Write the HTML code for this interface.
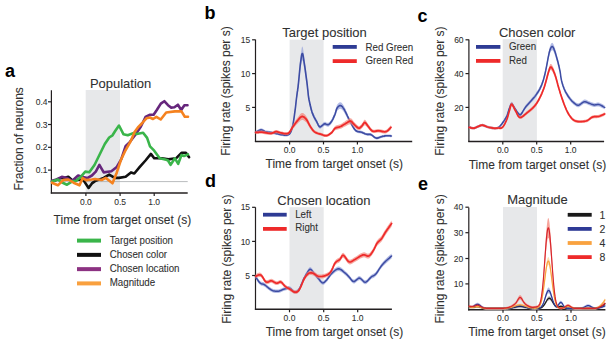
<!DOCTYPE html>
<html><head><meta charset="utf-8"><style>
html,body{margin:0;padding:0;background:#fff;width:611px;height:344px;overflow:hidden}
svg{display:block}
</style></head><body>
<svg width="611" height="344" viewBox="0 0 611 344" font-family='"Liberation Sans", sans-serif'>
<rect width="611" height="344" fill="#fff"/>
<rect x="85.7" y="90" width="34.3" height="102.8" fill="#e7e8ea"/>
<line x1="51.4" y1="181.6" x2="187.7" y2="181.6" stroke="#a7a9ac" stroke-width="0.8"/>
<line x1="51.4" y1="90.3" x2="51.4" y2="193.4" stroke="#231f20" stroke-width="1.2"/>
<line x1="48.0" y1="101.8" x2="51.4" y2="101.8" stroke="#231f20" stroke-width="1.2"/>
<text x="47.5" y="105.0" font-size="8.5" text-anchor="end" font-weight="normal" fill="#303030" stroke="#303030" stroke-width="0.08" transform="translate(47.5 105.0) scale(1 1.1) translate(-47.5 -105.0)">0.4</text>
<line x1="48.0" y1="124.5" x2="51.4" y2="124.5" stroke="#231f20" stroke-width="1.2"/>
<text x="47.5" y="127.7" font-size="8.5" text-anchor="end" font-weight="normal" fill="#303030" stroke="#303030" stroke-width="0.08" transform="translate(47.5 127.7) scale(1 1.1) translate(-47.5 -127.7)">0.3</text>
<line x1="48.0" y1="147.3" x2="51.4" y2="147.3" stroke="#231f20" stroke-width="1.2"/>
<text x="47.5" y="150.5" font-size="8.5" text-anchor="end" font-weight="normal" fill="#303030" stroke="#303030" stroke-width="0.08" transform="translate(47.5 150.5) scale(1 1.1) translate(-47.5 -150.5)">0.2</text>
<line x1="48.0" y1="170.1" x2="51.4" y2="170.1" stroke="#231f20" stroke-width="1.2"/>
<text x="47.5" y="173.29999999999998" font-size="8.5" text-anchor="end" font-weight="normal" fill="#303030" stroke="#303030" stroke-width="0.08" transform="translate(47.5 173.29999999999998) scale(1 1.1) translate(-47.5 -173.29999999999998)">0.1</text>
<line x1="50.8" y1="193.0" x2="187.7" y2="193.0" stroke="#231f20" stroke-width="1.5"/>
<line x1="85.9" y1="193.0" x2="85.9" y2="196.0" stroke="#231f20" stroke-width="1.2"/>
<text x="85.9" y="204.6" font-size="8.5" text-anchor="middle" font-weight="normal" fill="#303030" stroke="#303030" stroke-width="0.08" transform="translate(85.9 204.6) scale(1 1.1) translate(-85.9 -204.6)">0.0</text>
<line x1="120.1" y1="193.0" x2="120.1" y2="196.0" stroke="#231f20" stroke-width="1.2"/>
<text x="120.1" y="204.6" font-size="8.5" text-anchor="middle" font-weight="normal" fill="#303030" stroke="#303030" stroke-width="0.08" transform="translate(120.1 204.6) scale(1 1.1) translate(-120.1 -204.6)">0.5</text>
<line x1="154.2" y1="193.0" x2="154.2" y2="196.0" stroke="#231f20" stroke-width="1.2"/>
<text x="154.2" y="204.6" font-size="8.5" text-anchor="middle" font-weight="normal" fill="#303030" stroke="#303030" stroke-width="0.08" transform="translate(154.2 204.6) scale(1 1.1) translate(-154.2 -204.6)">1.0</text>
<text x="23.5" y="138.9" font-size="12" text-anchor="middle" font-weight="normal" fill="#303030" stroke="#303030" stroke-width="0.08" transform="rotate(-90 23.5 138.9) translate(23.5 138.9) scale(1 1.0) translate(-23.5 -138.9)">Fraction of neurons</text>
<text x="122.4" y="223.7" font-size="12" text-anchor="middle" font-weight="normal" fill="#303030" stroke="#303030" stroke-width="0.08" transform="translate(122.4 223.7) scale(1 1.0) translate(-122.4 -223.7)">Time from target onset (s)</text>
<text x="4.9" y="76.6" font-size="18" text-anchor="start" font-weight="bold" fill="#000" transform="translate(4.9 76.6) scale(1 1.05) translate(-4.9 -76.6)">a</text>
<text x="120.6" y="87.7" font-size="13" text-anchor="middle" font-weight="normal" fill="#303030" stroke="#303030" stroke-width="0.08" transform="translate(120.6 87.7) scale(1 1.05) translate(-120.6 -87.7)">Population</text>
<polyline points="52.0,181.4 56.0,180.0 60.5,178.1 64.0,178.0 68.3,176.8 73.6,181.4 78.1,179.5 83.4,180.1 88.6,188.0 91.9,183.4 95.0,181.1 103.7,177.9 109.2,174.6 114.7,177.9 119.0,177.9 125.6,176.8 131.0,172.4 134.3,173.5 139.8,166.9 145.5,160.5 150.9,153.9 154.2,158.3 161.8,158.3 168.4,159.4 176.0,158.3 181.5,152.8 185.9,152.8 189.1,157.2" fill="none" stroke="#111111" stroke-width="2.6" stroke-linejoin="round" stroke-linecap="round" stroke-opacity="1"/>
<polyline points="52.0,180.8 56.5,179.5 61.8,176.8 67.0,178.1 72.3,180.8 78.1,175.5 82.0,176.8 87.3,178.1 91.9,175.5 95.8,171.6 99.4,164.8 103.7,172.4 111.4,171.3 116.8,166.9 121.2,159.3 125.6,146.2 130.0,141.8 136.5,133.1 140.9,126.5 145.5,117.0 149.6,114.8 153.6,114.8 156.8,110.0 160.8,103.6 164.3,101.2 168.0,105.2 171.2,107.6 174.4,107.3 177.9,104.7 181.2,110.0 184.4,105.2 187.5,105.2" fill="none" stroke="#66267c" stroke-width="2.6" stroke-linejoin="round" stroke-linecap="round" stroke-opacity="1"/>
<polyline points="52.0,181.4 57.9,179.5 61.1,182.0 67.0,184.7 72.3,181.4 76.2,180.8 81.4,176.2 85.3,171.6 89.3,172.3 94.5,165.0 100.5,152.8 104.8,144.0 109.2,137.5 112.5,135.3 115.5,130.5 119.0,125.5 123.4,134.2 127.8,135.3 133.2,133.1 136.6,134.0 143.1,132.7 147.1,137.9 150.0,146.4 154.2,150.7 159.7,158.3 165.1,159.4 168.0,160.5 170.6,164.9 174.9,158.3 178.2,163.8 181.5,155.0 184.0,156.0 188.0,154.4" fill="none" stroke="#3ab54a" stroke-width="2.6" stroke-linejoin="round" stroke-linecap="round" stroke-opacity="1"/>
<polyline points="52.0,182.7 57.9,185.3 63.1,180.1 68.3,179.5 73.6,182.7 79.5,185.3 82.7,178.1 86.0,180.1 91.9,179.5 95.0,179.0 101.6,180.0 105.9,177.9 112.5,183.3 116.8,172.4 120.9,160.0 125.5,150.3 130.7,141.2 134.6,132.0 137.9,127.4 141.8,123.5 146.4,118.3 150.0,117.5 153.0,119.0 156.4,116.8 160.7,119.5 166.2,112.5 174.9,111.4 181.5,111.4 184.8,116.8 188.0,116.8" fill="none" stroke="#f5821f" stroke-width="2.6" stroke-linejoin="round" stroke-linecap="round" stroke-opacity="1"/>
<line x1="77" y1="240.6" x2="101" y2="240.6" stroke="#3ab54a" stroke-width="4.0"/>
<text x="109.7" y="244.5" font-size="9.75" text-anchor="start" font-weight="normal" fill="#303030" stroke="#303030" stroke-width="0.08" transform="translate(109.7 244.5) scale(1 1.05) translate(-109.7 -244.5)">Target position</text>
<line x1="77" y1="254.87" x2="101" y2="254.87" stroke="#111111" stroke-width="4.0"/>
<text x="109.7" y="257.8" font-size="9.75" text-anchor="start" font-weight="normal" fill="#303030" stroke="#303030" stroke-width="0.08" transform="translate(109.7 257.8) scale(1 1.05) translate(-109.7 -257.8)">Chosen color</text>
<line x1="77" y1="269.14" x2="101" y2="269.14" stroke="#8c3282" stroke-width="4.0"/>
<text x="109.7" y="272.4" font-size="9.75" text-anchor="start" font-weight="normal" fill="#303030" stroke="#303030" stroke-width="0.08" transform="translate(109.7 272.4) scale(1 1.05) translate(-109.7 -272.4)">Chosen location</text>
<line x1="77" y1="283.40999999999997" x2="101" y2="283.40999999999997" stroke="#f9a03e" stroke-width="4.0"/>
<text x="109.7" y="285.8" font-size="9.75" text-anchor="start" font-weight="normal" fill="#303030" stroke="#303030" stroke-width="0.08" transform="translate(109.7 285.8) scale(1 1.05) translate(-109.7 -285.8)">Magnitude</text>
<rect x="289.6" y="39.6" width="34" height="101.8" fill="#e7e8ea"/>
<line x1="255.5" y1="39.6" x2="255.5" y2="142.0" stroke="#231f20" stroke-width="1.2"/>
<line x1="252.1" y1="39.8" x2="255.5" y2="39.8" stroke="#231f20" stroke-width="1.2"/>
<text x="250.3" y="43.0" font-size="8.5" text-anchor="end" font-weight="normal" fill="#303030" stroke="#303030" stroke-width="0.08" transform="translate(250.3 43.0) scale(1 1.1) translate(-250.3 -43.0)">15</text>
<line x1="252.1" y1="73.6" x2="255.5" y2="73.6" stroke="#231f20" stroke-width="1.2"/>
<text x="250.3" y="76.8" font-size="8.5" text-anchor="end" font-weight="normal" fill="#303030" stroke="#303030" stroke-width="0.08" transform="translate(250.3 76.8) scale(1 1.1) translate(-250.3 -76.8)">10</text>
<line x1="252.1" y1="107.4" x2="255.5" y2="107.4" stroke="#231f20" stroke-width="1.2"/>
<text x="250.3" y="110.60000000000001" font-size="8.5" text-anchor="end" font-weight="normal" fill="#303030" stroke="#303030" stroke-width="0.08" transform="translate(250.3 110.60000000000001) scale(1 1.1) translate(-250.3 -110.60000000000001)">5</text>
<line x1="254.9" y1="141.4" x2="412.2" y2="141.4" stroke="#231f20" stroke-width="1.5"/>
<line x1="289.6" y1="141.4" x2="289.6" y2="144.4" stroke="#231f20" stroke-width="1.2"/>
<text x="289.6" y="153.4" font-size="8.5" text-anchor="middle" font-weight="normal" fill="#303030" stroke="#303030" stroke-width="0.08" transform="translate(289.6 153.4) scale(1 1.1) translate(-289.6 -153.4)">0.0</text>
<line x1="323.5" y1="141.4" x2="323.5" y2="144.4" stroke="#231f20" stroke-width="1.2"/>
<text x="323.5" y="153.4" font-size="8.5" text-anchor="middle" font-weight="normal" fill="#303030" stroke="#303030" stroke-width="0.08" transform="translate(323.5 153.4) scale(1 1.1) translate(-323.5 -153.4)">0.5</text>
<line x1="357.4" y1="141.4" x2="357.4" y2="144.4" stroke="#231f20" stroke-width="1.2"/>
<text x="357.4" y="153.4" font-size="8.5" text-anchor="middle" font-weight="normal" fill="#303030" stroke="#303030" stroke-width="0.08" transform="translate(357.4 153.4) scale(1 1.1) translate(-357.4 -153.4)">1.0</text>
<text x="230.3" y="91.0" font-size="12" text-anchor="middle" font-weight="normal" fill="#303030" stroke="#303030" stroke-width="0.08" transform="rotate(-90 230.3 91.0) translate(230.3 91.0) scale(1 1.0) translate(-230.3 -91.0)">Firing rate (spikes per s)</text>
<text x="334.3" y="168.4" font-size="12" text-anchor="middle" font-weight="normal" fill="#303030" stroke="#303030" stroke-width="0.08" transform="translate(334.3 168.4) scale(1 1.0) translate(-334.3 -168.4)">Time from target onset (s)</text>
<polygon points="255.6,130.8 256.2,130.5 257.1,130.0 258.1,129.4 259.1,128.9 260.2,128.5 261.1,128.3 261.9,128.4 262.6,128.7 263.3,129.1 264.0,129.5 264.7,129.9 265.5,130.2 266.3,130.4 267.2,130.6 268.0,130.7 268.9,130.8 269.8,131.0 270.7,131.1 271.6,131.2 272.4,131.4 273.3,131.5 274.2,131.7 275.0,131.9 275.9,132.1 276.7,132.3 277.6,132.5 278.4,132.7 279.2,133.0 280.1,133.2 281.1,133.3 282.2,133.5 283.4,133.6 284.7,133.8 286.0,133.8 287.1,133.8 288.1,133.5 288.9,133.1 289.6,132.5 290.1,131.8 290.6,130.9 291.1,129.8 291.6,128.3 292.1,126.6 292.5,124.6 293.0,122.4 293.4,120.0 293.8,117.3 294.2,114.4 294.6,111.0 295.1,107.2 295.6,103.1 296.0,99.0 296.4,95.2 296.8,92.0 297.1,89.6 297.3,87.8 297.6,86.2 297.7,84.7 298.0,83.0 298.2,80.8 298.5,78.0 298.8,74.8 299.1,71.4 299.4,67.9 299.7,64.6 300.0,61.5 300.3,58.5 300.7,55.3 301.1,52.2 301.5,49.5 301.8,47.5 302.2,46.6 302.5,46.7 302.9,47.8 303.2,49.5 303.5,51.8 303.9,54.4 304.3,57.3 304.8,60.5 305.3,64.5 305.8,68.8 306.4,73.1 306.9,77.2 307.3,80.8 307.6,83.8 307.9,86.4 308.1,88.8 308.3,91.1 308.6,93.4 309.0,95.8 309.5,98.3 310.0,101.0 310.6,103.6 311.2,106.1 311.8,108.5 312.5,110.7 313.2,112.6 314.0,114.3 314.8,115.9 315.5,117.4 316.3,118.7 316.9,120.0 317.4,121.1 317.9,122.2 318.3,123.1 318.7,123.9 319.1,124.6 319.5,125.0 319.9,125.2 320.4,125.1 320.8,124.8 321.2,124.4 321.7,124.0 322.1,123.7 322.5,123.4 322.9,123.0 323.3,122.6 323.8,122.2 324.2,121.9 324.7,121.8 325.2,121.8 325.8,122.1 326.4,122.4 327.0,122.7 327.6,122.8 328.2,122.7 328.8,122.4 329.4,122.0 330.0,121.4 330.5,120.7 331.1,119.9 331.7,119.0 332.3,118.0 332.9,116.8 333.4,115.5 334.0,114.2 334.5,112.8 335.0,111.6 335.4,110.4 335.7,109.2 336.0,108.1 336.3,107.0 336.6,106.0 337.0,105.1 337.5,104.3 338.1,103.6 338.7,103.0 339.3,102.5 339.9,102.3 340.5,102.2 341.1,102.4 341.6,102.8 342.2,103.4 342.8,104.2 343.3,105.0 343.9,106.0 344.5,107.0 345.0,108.1 345.6,109.3 346.2,110.7 346.8,112.0 347.4,113.4 348.1,114.9 348.8,116.5 349.6,118.2 350.3,119.8 351.1,121.3 351.8,122.7 352.5,124.1 353.2,125.3 353.9,126.5 354.6,127.6 355.3,128.5 356.1,129.3 356.9,129.8 357.8,130.1 358.7,130.3 359.6,130.4 360.5,130.5 361.4,130.8 362.3,131.1 363.2,131.5 364.1,132.0 364.9,132.4 365.8,132.7 366.6,133.0 367.4,133.1 368.1,133.1 368.8,133.1 369.5,133.0 370.2,133.1 371.0,133.3 371.8,133.8 372.6,134.4 373.5,135.2 374.4,135.9 375.3,136.5 376.2,136.8 377.2,136.8 378.2,136.6 379.2,136.2 380.3,135.8 381.3,135.4 382.3,135.1 383.2,134.9 384.1,134.8 385.0,134.6 385.9,134.5 386.7,134.4 387.5,134.4 388.3,134.4 389.0,134.4 389.8,134.5 390.4,134.6 391.0,134.7 391.4,134.7 391.4,137.3 391.0,137.3 390.4,137.2 389.8,137.1 389.0,137.0 388.3,137.0 387.5,137.0 386.7,137.0 385.9,137.1 385.0,137.2 384.1,137.4 383.2,137.5 382.3,137.7 381.3,138.0 380.3,138.4 379.2,138.8 378.2,139.2 377.2,139.4 376.2,139.4 375.3,139.1 374.4,138.5 373.5,137.8 372.6,137.0 371.8,136.4 371.0,135.9 370.2,135.7 369.5,135.6 368.8,135.7 368.1,135.7 367.4,135.7 366.6,135.6 365.8,135.3 364.9,135.0 364.1,134.7 363.2,134.3 362.3,133.9 361.4,133.6 360.5,133.4 359.6,133.3 358.7,133.2 357.8,133.1 356.9,132.8 356.1,132.3 355.3,131.7 354.6,130.8 353.9,129.9 353.2,128.9 352.5,127.8 351.8,126.7 351.1,125.4 350.3,124.1 349.6,122.7 348.8,121.2 348.1,119.8 347.4,118.6 346.8,117.3 346.2,116.2 345.6,115.0 345.0,113.9 344.5,112.9 343.9,112.0 343.3,111.3 342.8,110.5 342.2,109.9 341.6,109.3 341.1,109.0 340.5,108.8 339.9,108.8 339.3,109.1 338.7,109.5 338.1,110.0 337.5,110.6 337.0,111.3 336.6,112.1 336.3,112.9 336.0,113.9 335.7,114.9 335.4,116.0 335.0,117.0 334.5,118.0 334.0,119.2 333.4,120.3 332.9,121.5 332.3,122.5 331.7,123.4 331.1,124.2 330.5,124.9 330.0,125.5 329.4,126.0 328.8,126.4 328.2,126.7 327.6,126.7 327.0,126.6 326.4,126.3 325.8,126.1 325.2,125.9 324.7,125.8 324.2,126.0 323.8,126.2 323.3,126.5 322.9,126.9 322.5,127.2 322.1,127.5 321.7,127.8 321.2,128.1 320.8,128.4 320.4,128.7 319.9,128.7 319.5,128.6 319.1,128.2 318.7,127.7 318.3,127.0 317.9,126.2 317.4,125.2 316.9,124.2 316.3,123.2 315.5,122.0 314.8,120.7 314.0,119.3 313.2,117.8 312.5,116.1 311.8,114.3 311.2,112.2 310.6,110.0 310.0,107.7 309.5,105.4 309.0,103.2 308.6,101.1 308.3,99.2 308.1,97.2 307.9,95.1 307.6,92.8 307.3,90.2 306.9,87.1 306.4,83.5 305.8,79.7 305.3,76.0 304.8,72.6 304.3,69.7 303.9,67.3 303.5,65.0 303.2,63.0 302.9,61.5 302.5,60.6 302.2,60.4 301.8,61.3 301.5,63.0 301.1,65.3 300.7,68.0 300.3,70.8 300.0,73.5 299.7,76.1 299.4,79.0 299.1,82.0 298.8,85.0 298.5,87.8 298.2,90.2 298.0,92.1 297.7,93.6 297.6,94.9 297.3,96.2 297.1,97.9 296.8,100.0 296.4,102.7 296.0,106.0 295.6,109.5 295.1,113.1 294.6,116.5 294.2,119.4 293.8,121.9 293.4,124.3 293.0,126.4 292.5,128.3 292.1,130.0 291.6,131.5 291.1,132.7 290.6,133.7 290.1,134.5 289.6,135.2 288.9,135.7 288.1,136.1 287.1,136.4 286.0,136.4 284.7,136.4 283.4,136.2 282.2,136.1 281.1,135.9 280.1,135.8 279.2,135.6 278.4,135.3 277.6,135.1 276.7,134.9 275.9,134.7 275.0,134.6 274.2,134.4 273.3,134.3 272.4,134.2 271.6,134.0 270.7,133.9 269.8,133.8 268.9,133.7 268.0,133.6 267.2,133.5 266.3,133.3 265.5,133.2 264.7,132.9 264.0,132.5 263.3,132.1 262.6,131.8 261.9,131.6 261.1,131.5 260.2,131.6 259.1,132.0 258.1,132.5 257.1,132.9 256.2,133.3 255.6,133.6" fill="#9aa6dc" fill-opacity="0.75"/>
<polyline points="255.6,132.2 256.2,131.9 257.1,131.5 258.1,130.9 259.1,130.4 260.2,130.1 261.1,129.9 261.9,130.0 262.6,130.2 263.3,130.6 264.0,131.0 264.7,131.4 265.5,131.7 266.3,131.9 267.2,132.0 268.0,132.2 268.9,132.3 269.8,132.4 270.7,132.5 271.6,132.6 272.4,132.8 273.3,132.9 274.2,133.1 275.0,133.2 275.9,133.4 276.7,133.6 277.6,133.8 278.4,134.0 279.2,134.3 280.1,134.5 281.1,134.6 282.2,134.8 283.4,134.9 284.7,135.1 286.0,135.1 287.1,135.1 288.1,134.8 288.9,134.4 289.6,133.8 290.1,133.2 290.6,132.3 291.1,131.2 291.6,129.9 292.1,128.3 292.5,126.5 293.0,124.4 293.4,122.1 293.8,119.6 294.2,116.9 294.6,113.8 295.1,110.1 295.6,106.3 296.0,102.5 296.4,99.0 296.8,96.0 297.1,93.7 297.3,92.0 297.6,90.6 297.7,89.2 298.0,87.6 298.2,85.5 298.5,82.9 298.8,79.9 299.1,76.7 299.4,73.5 299.7,70.4 300.0,67.5 300.3,64.7 300.7,61.6 301.1,58.8 301.5,56.2 301.8,54.4 302.2,53.5 302.5,53.6 302.9,54.6 303.2,56.2 303.5,58.4 303.9,60.9 304.3,63.5 304.8,66.6 305.3,70.2 305.8,74.2 306.4,78.3 306.9,82.2 307.3,85.5 307.6,88.3 307.9,90.8 308.1,93.0 308.3,95.1 308.6,97.3 309.0,99.5 309.5,101.9 310.0,104.3 310.6,106.8 311.2,109.2 311.8,111.4 312.5,113.4 313.2,115.2 314.0,116.8 314.8,118.3 315.5,119.7 316.3,120.9 316.9,122.1 317.4,123.2 317.9,124.2 318.3,125.1 318.7,125.8 319.1,126.4 319.5,126.8 319.9,126.9 320.4,126.9 320.8,126.6 321.2,126.3 321.7,125.9 322.1,125.6 322.5,125.3 322.9,124.9 323.3,124.6 323.8,124.2 324.2,124.0 324.7,123.8 325.2,123.8 325.8,124.1 326.4,124.4 327.0,124.6 327.6,124.8 328.2,124.7 328.8,124.4 329.4,124.0 330.0,123.4 330.5,122.8 331.1,122.0 331.7,121.2 332.3,120.2 332.9,119.1 333.4,117.9 334.0,116.7 334.5,115.4 335.0,114.3 335.4,113.2 335.7,112.1 336.0,111.0 336.3,110.0 336.6,109.0 337.0,108.2 337.5,107.5 338.1,106.8 338.7,106.2 339.3,105.8 339.9,105.6 340.5,105.5 341.1,105.7 341.6,106.1 342.2,106.6 342.8,107.3 343.3,108.1 343.9,109.0 344.5,109.9 345.0,111.0 345.6,112.2 346.2,113.4 346.8,114.7 347.4,116.0 348.1,117.4 348.8,118.9 349.6,120.4 350.3,121.9 351.1,123.4 351.8,124.7 352.5,125.9 353.2,127.1 353.9,128.2 354.6,129.2 355.3,130.1 356.1,130.8 356.9,131.3 357.8,131.6 358.7,131.8 359.6,131.9 360.5,132.0 361.4,132.2 362.3,132.5 363.2,132.9 364.1,133.3 364.9,133.7 365.8,134.0 366.6,134.3 367.4,134.4 368.1,134.4 368.8,134.4 369.5,134.3 370.2,134.4 371.0,134.6 371.8,135.1 372.6,135.7 373.5,136.5 374.4,137.2 375.3,137.8 376.2,138.1 377.2,138.1 378.2,137.9 379.2,137.5 380.3,137.1 381.3,136.7 382.3,136.4 383.2,136.2 384.1,136.1 385.0,135.9 385.9,135.8 386.7,135.7 387.5,135.7 388.3,135.7 389.0,135.7 389.8,135.8 390.4,135.9 391.0,136.0 391.4,136.0" fill="none" stroke="#3d4ca3" stroke-width="1.6" stroke-linejoin="round" stroke-linecap="round" stroke-opacity="1"/>
<polygon points="255.6,130.9 256.3,130.9 257.2,130.8 258.3,130.7 259.5,130.6 260.7,130.5 262.0,130.6 263.4,130.7 264.9,131.0 266.4,131.4 268.0,131.7 269.4,131.9 270.7,131.9 271.8,131.8 272.7,131.4 273.5,131.0 274.3,130.5 275.1,130.2 275.9,130.0 276.7,130.1 277.6,130.3 278.4,130.5 279.2,130.9 280.1,131.2 281.1,131.4 282.2,131.6 283.4,131.9 284.7,132.2 285.9,132.3 287.1,132.3 288.1,131.9 289.0,131.2 289.7,130.2 290.4,129.0 291.1,127.7 291.8,126.4 292.5,125.1 293.3,123.8 294.2,122.5 295.1,121.1 296.0,119.7 296.9,118.5 297.7,117.4 298.5,116.4 299.2,115.4 299.9,114.5 300.6,113.8 301.3,113.2 302.0,113.0 302.7,113.1 303.5,113.3 304.2,113.9 304.9,114.6 305.7,115.4 306.4,116.4 307.1,117.5 307.9,119.0 308.6,120.6 309.3,122.2 310.1,123.8 310.8,125.1 311.5,126.2 312.2,127.3 312.8,128.2 313.5,129.1 314.3,129.9 315.1,130.6 316.0,131.2 317.0,131.6 318.1,132.0 319.2,132.3 320.2,132.6 321.2,132.9 322.1,133.2 323.0,133.6 323.9,133.9 324.8,134.2 325.6,134.3 326.5,134.3 327.4,134.0 328.3,133.6 329.2,133.1 330.1,132.4 330.9,131.6 331.7,130.9 332.4,130.2 332.9,129.3 333.4,128.4 334.0,127.5 334.5,126.8 335.2,126.1 336.0,125.6 336.8,125.3 337.7,125.1 338.7,124.8 339.6,124.6 340.5,124.2 341.4,123.7 342.3,123.2 343.1,122.6 344.0,122.0 344.9,121.4 345.7,120.8 346.5,120.3 347.4,119.7 348.2,119.1 349.1,118.6 349.9,118.3 350.6,118.3 351.3,118.5 351.9,119.1 352.5,119.8 353.1,120.6 353.7,121.5 354.4,122.2 355.1,122.9 355.9,123.7 356.6,124.6 357.4,125.3 358.1,125.8 358.8,126.1 359.4,126.0 360.0,125.7 360.6,125.1 361.2,124.5 361.7,123.8 362.2,123.2 362.7,122.6 363.1,121.8 363.5,121.0 364.0,120.3 364.4,119.8 364.9,119.7 365.4,120.0 365.9,120.6 366.5,121.4 367.1,122.4 367.7,123.3 368.3,124.2 369.0,125.1 369.6,126.1 370.3,127.1 371.1,128.1 371.9,128.9 372.7,129.5 373.6,129.7 374.6,129.7 375.6,129.5 376.6,129.3 377.7,129.1 378.8,129.0 379.9,129.2 381.1,129.5 382.4,129.8 383.6,130.1 384.7,130.2 385.8,130.0 386.8,129.5 387.9,128.6 388.8,127.6 389.7,126.6 390.5,125.7 391.0,125.1 391.0,129.5 390.5,130.0 389.7,130.7 388.8,131.5 387.9,132.3 386.8,133.0 385.8,133.4 384.7,133.5 383.6,133.4 382.4,133.2 381.1,132.9 379.9,132.7 378.8,132.6 377.7,132.6 376.6,132.8 375.6,133.0 374.6,133.1 373.6,133.1 372.7,132.9 371.9,132.5 371.1,131.9 370.3,131.1 369.6,130.3 369.0,129.5 368.3,128.8 367.7,128.1 367.1,127.3 366.5,126.6 365.9,126.0 365.4,125.5 364.9,125.3 364.4,125.4 364.0,125.7 363.5,126.3 363.1,126.9 362.7,127.5 362.2,128.0 361.7,128.5 361.2,129.0 360.6,129.5 360.0,129.9 359.4,130.2 358.8,130.3 358.1,130.1 357.4,129.7 356.6,129.1 355.9,128.4 355.1,127.8 354.4,127.2 353.7,126.6 353.1,126.0 352.5,125.4 351.9,124.8 351.3,124.4 350.6,124.1 349.9,124.2 349.1,124.4 348.2,124.8 347.4,125.3 346.5,125.7 345.7,126.2 344.9,126.6 344.0,127.0 343.1,127.5 342.3,128.0 341.4,128.4 340.5,128.8 339.6,129.1 338.7,129.3 337.7,129.5 336.8,129.7 336.0,129.9 335.2,130.3 334.5,130.8 334.0,131.4 333.4,132.1 332.9,132.8 332.4,133.5 331.7,134.1 330.9,134.7 330.1,135.2 329.2,135.9 328.3,136.4 327.4,136.8 326.5,137.1 325.6,137.1 324.8,137.0 323.9,136.7 323.0,136.4 322.1,136.0 321.2,135.7 320.2,135.4 319.2,135.2 318.1,134.9 317.0,134.6 316.0,134.3 315.1,133.8 314.3,133.3 313.5,132.7 312.8,132.0 312.2,131.2 311.5,130.4 310.8,129.5 310.1,128.5 309.3,127.2 308.6,126.0 307.9,124.7 307.1,123.6 306.4,122.6 305.7,121.9 304.9,121.2 304.2,120.7 303.5,120.3 302.7,120.0 302.0,120.0 301.3,120.2 300.6,120.6 299.9,121.2 299.2,121.9 298.5,122.6 297.7,123.4 296.9,124.3 296.0,125.3 295.1,126.3 294.2,127.4 293.3,128.5 292.5,129.5 291.8,130.5 291.1,131.6 290.4,132.6 289.7,133.5 289.0,134.3 288.1,134.9 287.1,135.1 285.9,135.2 284.7,135.1 283.4,134.8 282.2,134.6 281.1,134.4 280.1,134.3 279.2,134.0 278.4,133.8 277.6,133.6 276.7,133.4 275.9,133.4 275.1,133.5 274.3,133.8 273.5,134.1 272.7,134.5 271.8,134.7 270.7,134.9 269.4,134.8 268.0,134.7 266.4,134.4 264.9,134.2 263.4,133.9 262.0,133.8 260.7,133.8 259.5,133.8 258.3,133.9 257.2,134.0 256.3,134.0 255.6,134.1" fill="#f4867a" fill-opacity="0.7"/>
<polyline points="255.6,132.5 256.3,132.4 257.2,132.4 258.3,132.3 259.5,132.2 260.7,132.2 262.0,132.2 263.4,132.3 264.9,132.6 266.4,132.9 268.0,133.2 269.4,133.4 270.7,133.4 271.8,133.3 272.7,132.9 273.5,132.6 274.3,132.2 275.1,131.8 275.9,131.7 276.7,131.7 277.6,131.9 278.4,132.2 279.2,132.4 280.1,132.7 281.1,132.9 282.2,133.1 283.4,133.4 284.7,133.6 285.9,133.7 287.1,133.7 288.1,133.4 289.0,132.8 289.7,131.9 290.4,130.8 291.1,129.6 291.8,128.4 292.5,127.3 293.3,126.2 294.2,124.9 295.1,123.7 296.0,122.5 296.9,121.4 297.7,120.4 298.5,119.5 299.2,118.6 299.9,117.8 300.6,117.2 301.3,116.7 302.0,116.5 302.7,116.5 303.5,116.8 304.2,117.3 304.9,117.9 305.7,118.6 306.4,119.5 307.1,120.6 307.9,121.9 308.6,123.3 309.3,124.7 310.1,126.1 310.8,127.3 311.5,128.3 312.2,129.3 312.8,130.1 313.5,130.9 314.3,131.6 315.1,132.2 316.0,132.7 317.0,133.1 318.1,133.5 319.2,133.8 320.2,134.0 321.2,134.3 322.1,134.6 323.0,135.0 323.9,135.3 324.8,135.6 325.6,135.7 326.5,135.7 327.4,135.4 328.3,135.0 329.2,134.5 330.1,133.8 330.9,133.2 331.7,132.5 332.4,131.8 332.9,131.1 333.4,130.3 334.0,129.5 334.5,128.8 335.2,128.2 336.0,127.8 336.8,127.5 337.7,127.3 338.7,127.1 339.6,126.8 340.5,126.5 341.4,126.1 342.3,125.6 343.1,125.0 344.0,124.5 344.9,124.0 345.7,123.5 346.5,123.0 347.4,122.5 348.2,121.9 349.1,121.5 349.9,121.2 350.6,121.2 351.3,121.4 351.9,121.9 352.5,122.6 353.1,123.3 353.7,124.0 354.4,124.7 355.1,125.4 355.9,126.1 356.6,126.8 357.4,127.5 358.1,128.0 358.8,128.2 359.4,128.1 360.0,127.8 360.6,127.3 361.2,126.7 361.7,126.1 362.2,125.6 362.7,125.0 363.1,124.3 363.5,123.6 364.0,123.0 364.4,122.6 364.9,122.5 365.4,122.7 365.9,123.3 366.5,124.0 367.1,124.9 367.7,125.7 368.3,126.5 369.0,127.3 369.6,128.2 370.3,129.1 371.1,130.0 371.9,130.7 372.7,131.2 373.6,131.4 374.6,131.4 375.6,131.2 376.6,131.0 377.7,130.9 378.8,130.8 379.9,130.9 381.1,131.2 382.4,131.5 383.6,131.7 384.7,131.8 385.8,131.7 386.8,131.2 387.9,130.5 388.8,129.6 389.7,128.6 390.5,127.8 391.0,127.3" fill="none" stroke="#ee2a2a" stroke-width="1.8" stroke-linejoin="round" stroke-linecap="round" stroke-opacity="1"/>
<text x="204.6" y="19.0" font-size="18" text-anchor="start" font-weight="bold" fill="#000" transform="translate(204.6 19.0) scale(1 1.05) translate(-204.6 -19.0)">b</text>
<text x="324.5" y="36.6" font-size="13" text-anchor="middle" font-weight="normal" fill="#303030" stroke="#303030" stroke-width="0.08" transform="translate(324.5 36.6) scale(1 1.05) translate(-324.5 -36.6)">Target position</text>
<line x1="332.7" y1="46.9" x2="356.8" y2="46.9" stroke="#2e3b94" stroke-width="3.8"/>
<text x="365.5" y="50.6" font-size="9.75" text-anchor="start" font-weight="normal" fill="#303030" stroke="#303030" stroke-width="0.08" transform="translate(365.5 50.6) scale(1 1.05) translate(-365.5 -50.6)">Red Green</text>
<line x1="332.7" y1="61.099999999999994" x2="356.8" y2="61.099999999999994" stroke="#ee2a2a" stroke-width="3.8"/>
<text x="365.5" y="64.5" font-size="9.75" text-anchor="start" font-weight="normal" fill="#303030" stroke="#303030" stroke-width="0.08" transform="translate(365.5 64.5) scale(1 1.05) translate(-365.5 -64.5)">Green Red</text>
<rect x="502.7" y="39.2" width="34.2" height="102.3" fill="#e7e8ea"/>
<line x1="468.9" y1="39.6" x2="468.9" y2="142.1" stroke="#231f20" stroke-width="1.2"/>
<line x1="465.5" y1="39.8" x2="468.9" y2="39.8" stroke="#231f20" stroke-width="1.2"/>
<text x="463.6" y="43.0" font-size="8.5" text-anchor="end" font-weight="normal" fill="#303030" stroke="#303030" stroke-width="0.08" transform="translate(463.6 43.0) scale(1 1.1) translate(-463.6 -43.0)">60</text>
<line x1="465.5" y1="73.6" x2="468.9" y2="73.6" stroke="#231f20" stroke-width="1.2"/>
<text x="463.6" y="76.8" font-size="8.5" text-anchor="end" font-weight="normal" fill="#303030" stroke="#303030" stroke-width="0.08" transform="translate(463.6 76.8) scale(1 1.1) translate(-463.6 -76.8)">40</text>
<line x1="465.5" y1="107.4" x2="468.9" y2="107.4" stroke="#231f20" stroke-width="1.2"/>
<text x="463.6" y="110.60000000000001" font-size="8.5" text-anchor="end" font-weight="normal" fill="#303030" stroke="#303030" stroke-width="0.08" transform="translate(463.6 110.60000000000001) scale(1 1.1) translate(-463.6 -110.60000000000001)">20</text>
<line x1="468.29999999999995" y1="141.5" x2="604.1" y2="141.5" stroke="#231f20" stroke-width="1.5"/>
<line x1="502.8" y1="141.5" x2="502.8" y2="144.5" stroke="#231f20" stroke-width="1.2"/>
<text x="502.8" y="153.4" font-size="8.5" text-anchor="middle" font-weight="normal" fill="#303030" stroke="#303030" stroke-width="0.08" transform="translate(502.8 153.4) scale(1 1.1) translate(-502.8 -153.4)">0.0</text>
<line x1="536.7" y1="141.5" x2="536.7" y2="144.5" stroke="#231f20" stroke-width="1.2"/>
<text x="536.7" y="153.4" font-size="8.5" text-anchor="middle" font-weight="normal" fill="#303030" stroke="#303030" stroke-width="0.08" transform="translate(536.7 153.4) scale(1 1.1) translate(-536.7 -153.4)">0.5</text>
<line x1="570.7" y1="141.5" x2="570.7" y2="144.5" stroke="#231f20" stroke-width="1.2"/>
<text x="570.7" y="153.4" font-size="8.5" text-anchor="middle" font-weight="normal" fill="#303030" stroke="#303030" stroke-width="0.08" transform="translate(570.7 153.4) scale(1 1.1) translate(-570.7 -153.4)">1.0</text>
<text x="444.0" y="91.1" font-size="12" text-anchor="middle" font-weight="normal" fill="#303030" stroke="#303030" stroke-width="0.08" transform="rotate(-90 444.0 91.1) translate(444.0 91.1) scale(1 1.0) translate(-444.0 -91.1)">Firing rate (spikes per s)</text>
<text x="537.5" y="168.6" font-size="12" text-anchor="middle" font-weight="normal" fill="#303030" stroke="#303030" stroke-width="0.08" transform="translate(537.5 168.6) scale(1 1.0) translate(-537.5 -168.6)">Time from target onset (s)</text>
<polygon points="469.0,125.7 469.5,125.9 470.2,126.1 471.1,126.4 472.0,126.7 472.9,126.9 473.7,126.9 474.5,126.8 475.2,126.5 475.9,126.2 476.7,125.8 477.4,125.5 478.1,125.2 478.8,124.9 479.5,124.6 480.2,124.3 480.9,124.0 481.6,123.9 482.4,123.8 483.2,124.0 484.1,124.3 484.9,124.6 485.8,125.0 486.8,125.4 487.7,125.7 488.7,126.0 489.7,126.2 490.8,126.4 491.9,126.6 492.9,126.8 493.8,126.9 494.6,127.0 495.4,127.0 496.1,127.0 496.7,126.9 497.4,126.7 498.1,126.4 498.8,125.9 499.6,125.2 500.3,124.4 501.0,123.5 501.8,122.6 502.5,121.6 503.2,120.5 504.0,119.4 504.8,118.2 505.5,116.9 506.2,115.6 506.8,114.4 507.3,113.0 507.8,111.6 508.2,110.2 508.6,108.8 509.0,107.5 509.4,106.3 509.8,105.3 510.2,104.2 510.5,103.3 510.9,102.5 511.3,102.0 511.7,101.8 512.2,102.0 512.6,102.6 513.1,103.5 513.6,104.4 514.2,105.4 514.7,106.3 515.3,107.2 515.9,108.2 516.5,109.2 517.1,110.2 517.7,111.0 518.2,111.7 518.7,112.2 519.1,112.7 519.4,113.0 519.8,113.2 520.3,113.2 520.8,112.8 521.4,112.1 522.1,111.0 522.8,109.7 523.6,108.3 524.4,107.0 525.2,105.7 526.0,104.6 526.9,103.6 527.8,102.5 528.7,101.5 529.6,100.5 530.5,99.4 531.4,98.4 532.2,97.4 533.1,96.5 534.0,95.4 534.8,94.4 535.7,93.2 536.6,91.8 537.5,90.4 538.4,89.0 539.3,87.4 540.1,85.8 540.9,84.2 541.6,82.5 542.2,80.8 542.8,79.0 543.4,77.2 543.9,75.3 544.4,73.4 544.9,71.4 545.3,69.3 545.8,67.2 546.2,65.1 546.6,62.9 547.0,60.8 547.4,58.6 547.8,56.3 548.2,53.9 548.7,51.7 549.1,49.6 549.5,47.9 549.9,46.5 550.4,45.3 550.8,44.3 551.2,43.5 551.7,43.0 552.1,42.8 552.5,42.9 552.9,43.2 553.3,43.9 553.7,44.7 554.1,45.8 554.5,46.9 555.0,48.3 555.5,49.9 556.0,51.6 556.5,53.5 557.0,55.4 557.5,57.2 558.0,59.0 558.4,60.8 558.8,62.6 559.3,64.5 559.6,66.3 560.0,68.0 560.3,69.7 560.5,71.3 560.7,73.0 560.9,74.6 561.2,76.2 561.5,77.8 561.9,79.5 562.4,81.2 562.9,82.9 563.5,84.7 564.1,86.3 564.8,87.9 565.5,89.4 566.3,90.9 567.2,92.4 568.0,93.8 568.9,95.1 569.7,96.2 570.5,97.3 571.3,98.3 572.1,99.2 573.0,100.0 573.7,100.7 574.5,101.3 575.2,101.9 575.9,102.4 576.5,102.8 577.1,103.1 577.8,103.3 578.6,103.2 579.5,102.9 580.4,102.3 581.4,101.5 582.4,100.7 583.4,100.0 584.3,99.6 585.2,99.6 586.0,99.8 586.8,100.1 587.6,100.5 588.4,101.0 589.2,101.3 590.0,101.6 590.8,101.9 591.7,102.2 592.5,102.5 593.3,102.8 594.1,102.9 594.9,103.0 595.7,102.9 596.5,102.7 597.3,102.6 598.1,102.5 599.0,102.6 600.0,103.0 601.1,103.5 602.2,104.1 603.2,104.6 604.1,105.2 604.7,105.5 604.7,109.3 604.1,109.0 603.2,108.5 602.2,107.9 601.1,107.4 600.0,106.9 599.0,106.6 598.1,106.5 597.3,106.5 596.5,106.6 595.7,106.8 594.9,106.9 594.1,106.9 593.3,106.7 592.5,106.5 591.7,106.2 590.8,105.9 590.0,105.6 589.2,105.3 588.4,105.0 587.6,104.6 586.8,104.2 586.0,103.9 585.2,103.7 584.3,103.8 583.4,104.1 582.4,104.7 581.4,105.5 580.4,106.2 579.5,106.8 578.6,107.2 577.8,107.2 577.1,107.0 576.5,106.7 575.9,106.3 575.2,105.8 574.5,105.3 573.7,104.7 573.0,104.1 572.1,103.3 571.3,102.5 570.5,101.6 569.7,100.6 568.9,99.4 568.0,98.2 567.2,96.9 566.3,95.6 565.5,94.1 564.8,92.7 564.1,91.2 563.5,89.6 562.9,88.0 562.4,86.4 561.9,84.8 561.5,83.2 561.2,81.7 560.9,80.1 560.7,78.6 560.5,77.1 560.3,75.6 560.0,74.0 559.6,72.3 559.3,70.6 558.8,68.9 558.4,67.2 558.0,65.5 557.5,63.8 557.0,62.1 556.5,60.3 556.0,58.6 555.5,56.9 555.0,55.4 554.5,54.1 554.1,53.0 553.7,52.0 553.3,51.2 552.9,50.6 552.5,50.3 552.1,50.2 551.7,50.4 551.2,50.9 550.8,51.6 550.4,52.6 549.9,53.7 549.5,55.1 549.1,56.7 548.7,58.6 548.2,60.7 547.8,62.9 547.4,65.1 547.0,67.2 546.6,69.2 546.2,71.2 545.8,73.2 545.3,75.2 544.9,77.2 544.4,79.0 543.9,80.8 543.4,82.6 542.8,84.3 542.2,86.0 541.6,87.6 540.9,89.2 540.1,90.7 539.3,92.2 538.4,93.7 537.5,95.1 536.6,96.4 535.7,97.6 534.8,98.8 534.0,99.8 533.1,100.8 532.2,101.7 531.4,102.6 530.5,103.6 529.6,104.5 528.7,105.5 527.8,106.5 526.9,107.5 526.0,108.5 525.2,109.5 524.4,110.6 523.6,111.9 522.8,113.3 522.1,114.5 521.4,115.5 520.8,116.2 520.3,116.5 519.8,116.5 519.4,116.4 519.1,116.0 518.7,115.6 518.2,115.1 517.7,114.5 517.1,113.7 516.5,112.8 515.9,111.8 515.3,110.9 514.7,110.1 514.2,109.2 513.6,108.3 513.1,107.3 512.6,106.6 512.2,106.0 511.7,105.8 511.3,106.0 510.9,106.5 510.5,107.2 510.2,108.1 509.8,109.1 509.4,110.1 509.0,111.1 508.6,112.4 508.2,113.7 507.8,115.0 507.3,116.4 506.8,117.6 506.2,118.8 505.5,120.0 504.8,121.2 504.0,122.4 503.2,123.4 502.5,124.4 501.8,125.4 501.0,126.3 500.3,127.1 499.6,127.8 498.8,128.5 498.1,129.0 497.4,129.3 496.7,129.5 496.1,129.6 495.4,129.6 494.6,129.6 493.8,129.5 492.9,129.4 491.9,129.2 490.8,129.0 489.7,128.8 488.7,128.6 487.7,128.3 486.8,128.0 485.8,127.6 484.9,127.3 484.1,126.9 483.2,126.7 482.4,126.6 481.6,126.6 480.9,126.7 480.2,127.0 479.5,127.3 478.8,127.5 478.1,127.8 477.4,128.1 476.7,128.4 475.9,128.8 475.2,129.1 474.5,129.4 473.7,129.5 472.9,129.5 472.0,129.3 471.1,129.0 470.2,128.7 469.5,128.5 469.0,128.3" fill="#9aa6dc" fill-opacity="0.75"/>
<polyline points="469.0,127.0 469.5,127.2 470.2,127.4 471.1,127.7 472.0,128.0 472.9,128.2 473.7,128.2 474.5,128.1 475.2,127.8 475.9,127.5 476.7,127.1 477.4,126.8 478.1,126.5 478.8,126.2 479.5,125.9 480.2,125.6 480.9,125.4 481.6,125.2 482.4,125.2 483.2,125.3 484.1,125.6 484.9,125.9 485.8,126.3 486.8,126.7 487.7,127.0 488.7,127.3 489.7,127.5 490.8,127.7 491.9,127.9 492.9,128.1 493.8,128.2 494.6,128.3 495.4,128.3 496.1,128.3 496.7,128.2 497.4,128.0 498.1,127.7 498.8,127.2 499.6,126.5 500.3,125.8 501.0,124.9 501.8,124.0 502.5,123.0 503.2,122.0 504.0,120.9 504.8,119.7 505.5,118.5 506.2,117.2 506.8,116.0 507.3,114.7 507.8,113.3 508.2,111.9 508.6,110.6 509.0,109.3 509.4,108.2 509.8,107.2 510.2,106.2 510.5,105.2 510.9,104.5 511.3,104.0 511.7,103.8 512.2,104.0 512.6,104.6 513.1,105.4 513.6,106.3 514.2,107.3 514.7,108.2 515.3,109.1 515.9,110.0 516.5,111.0 517.1,111.9 517.7,112.8 518.2,113.4 518.7,113.9 519.1,114.4 519.4,114.7 519.8,114.9 520.3,114.8 520.8,114.5 521.4,113.8 522.1,112.8 522.8,111.5 523.6,110.1 524.4,108.8 525.2,107.6 526.0,106.5 526.9,105.5 527.8,104.5 528.7,103.5 529.6,102.5 530.5,101.5 531.4,100.5 532.2,99.6 533.1,98.6 534.0,97.6 534.8,96.6 535.7,95.4 536.6,94.1 537.5,92.8 538.4,91.3 539.3,89.8 540.1,88.3 540.9,86.7 541.6,85.1 542.2,83.4 542.8,81.7 543.4,79.9 543.9,78.1 544.4,76.2 544.9,74.3 545.3,72.3 545.8,70.2 546.2,68.2 546.6,66.1 547.0,64.0 547.4,61.8 547.8,59.6 548.2,57.3 548.7,55.1 549.1,53.2 549.5,51.5 549.9,50.1 550.4,48.9 550.8,48.0 551.2,47.2 551.7,46.7 552.1,46.5 552.5,46.6 552.9,46.9 553.3,47.6 553.7,48.4 554.1,49.4 554.5,50.5 555.0,51.8 555.5,53.4 556.0,55.1 556.5,56.9 557.0,58.7 557.5,60.5 558.0,62.2 558.4,64.0 558.8,65.8 559.3,67.6 559.6,69.3 560.0,71.0 560.3,72.6 560.5,74.2 560.7,75.8 560.9,77.3 561.2,78.9 561.5,80.5 561.9,82.1 562.4,83.8 562.9,85.5 563.5,87.1 564.1,88.8 564.8,90.3 565.5,91.8 566.3,93.2 567.2,94.7 568.0,96.0 568.9,97.3 569.7,98.4 570.5,99.4 571.3,100.4 572.1,101.2 573.0,102.0 573.7,102.7 574.5,103.3 575.2,103.9 575.9,104.4 576.5,104.8 577.1,105.1 577.8,105.2 578.6,105.2 579.5,104.9 580.4,104.2 581.4,103.5 582.4,102.7 583.4,102.1 584.3,101.7 585.2,101.7 586.0,101.9 586.8,102.2 587.6,102.6 588.4,103.0 589.2,103.3 590.0,103.6 590.8,103.9 591.7,104.2 592.5,104.5 593.3,104.7 594.1,104.9 594.9,104.9 595.7,104.8 596.5,104.7 597.3,104.5 598.1,104.5 599.0,104.6 600.0,104.9 601.1,105.4 602.2,106.0 603.2,106.6 604.1,107.1 604.7,107.4" fill="none" stroke="#3d4ca3" stroke-width="1.5" stroke-linejoin="round" stroke-linecap="round" stroke-opacity="1"/>
<polygon points="469.0,126.0 469.5,126.1 470.2,126.3 471.1,126.6 472.0,126.8 472.9,126.9 473.7,126.9 474.5,126.8 475.2,126.5 475.9,126.2 476.7,125.8 477.4,125.5 478.1,125.2 478.8,124.9 479.5,124.6 480.2,124.3 480.9,124.0 481.6,123.9 482.4,123.8 483.2,124.0 484.1,124.3 484.9,124.6 485.8,125.0 486.8,125.4 487.7,125.7 488.7,126.0 489.7,126.2 490.8,126.4 491.9,126.6 492.9,126.8 493.8,126.9 494.6,127.0 495.4,127.0 496.1,126.9 496.7,126.9 497.4,126.8 498.1,126.7 498.8,126.7 499.6,126.8 500.3,126.8 501.0,126.8 501.8,126.5 502.5,126.0 503.2,125.1 504.0,123.9 504.8,122.5 505.5,121.0 506.2,119.5 506.8,118.0 507.3,116.5 507.8,115.0 508.2,113.4 508.6,111.9 509.0,110.4 509.4,109.0 509.8,107.6 510.1,106.1 510.5,104.7 510.8,103.5 511.2,102.6 511.7,102.3 512.2,102.7 512.8,103.6 513.5,104.8 514.1,106.3 514.8,107.7 515.5,109.0 516.2,110.3 516.8,111.7 517.5,113.2 518.2,114.5 519.0,115.4 519.9,115.9 520.9,115.8 522.1,115.2 523.3,114.3 524.5,113.2 525.8,112.1 527.0,111.1 528.2,110.1 529.4,109.2 530.6,108.1 531.8,107.1 532.9,106.0 534.0,104.8 535.0,103.6 535.9,102.4 536.7,101.2 537.5,99.8 538.4,98.4 539.2,96.8 540.1,95.0 541.0,93.0 541.9,91.0 542.7,88.8 543.6,86.5 544.4,84.2 545.2,81.6 546.0,78.6 546.8,75.6 547.5,72.6 548.2,70.1 548.8,68.0 549.3,66.5 549.7,65.3 550.0,64.5 550.4,64.0 550.7,63.9 551.2,64.0 551.7,64.5 552.3,65.5 553.0,66.8 553.6,68.3 554.3,69.9 554.9,71.6 555.5,73.5 556.1,75.5 556.7,77.7 557.3,80.0 557.8,82.2 558.4,84.2 558.9,86.0 559.4,87.7 559.9,89.3 560.3,91.0 560.9,92.7 561.5,94.6 562.2,96.7 563.0,99.0 563.8,101.4 564.7,103.8 565.6,106.0 566.4,108.0 567.2,109.7 568.0,111.3 568.8,112.8 569.7,114.1 570.5,115.3 571.3,116.3 572.1,117.2 572.9,117.9 573.6,118.5 574.4,119.0 575.3,119.4 576.2,119.7 577.2,120.0 578.3,120.1 579.5,120.2 580.6,120.2 581.7,120.1 582.7,120.0 583.6,120.0 584.5,119.8 585.3,119.7 586.0,119.5 586.8,119.2 587.6,118.9 588.4,118.4 589.1,117.8 589.9,117.2 590.7,116.5 591.5,115.9 592.4,115.5 593.4,115.2 594.5,115.1 595.6,115.0 596.8,115.0 597.9,114.9 599.0,114.7 600.1,114.3 601.2,113.9 602.3,113.4 603.3,112.9 604.1,112.5 604.7,112.2 604.7,115.6 604.1,115.9 603.3,116.3 602.3,116.7 601.2,117.2 600.1,117.6 599.0,117.9 597.9,118.1 596.8,118.2 595.6,118.3 594.5,118.3 593.4,118.4 592.4,118.7 591.5,119.1 590.7,119.7 589.9,120.3 589.1,120.9 588.4,121.5 587.6,121.9 586.8,122.2 586.0,122.5 585.3,122.6 584.5,122.8 583.6,122.9 582.7,123.0 581.7,123.0 580.6,123.1 579.5,123.1 578.3,123.0 577.2,122.9 576.2,122.7 575.3,122.4 574.4,122.0 573.6,121.5 572.9,121.0 572.1,120.3 571.3,119.5 570.5,118.5 569.7,117.4 568.8,116.1 568.0,114.8 567.2,113.3 566.4,111.6 565.6,109.8 564.7,107.7 563.8,105.4 563.0,103.2 562.2,101.0 561.5,99.0 560.9,97.2 560.3,95.6 559.9,94.1 559.4,92.5 558.9,90.9 558.4,89.2 557.8,87.3 557.3,85.2 556.7,83.1 556.1,81.1 555.5,79.1 554.9,77.4 554.3,75.8 553.6,74.2 553.0,72.8 552.3,71.6 551.7,70.7 551.2,70.2 550.7,70.1 550.4,70.2 550.0,70.7 549.7,71.5 549.3,72.6 548.8,74.0 548.2,75.9 547.5,78.3 546.8,81.1 546.0,84.0 545.2,86.7 544.4,89.2 543.6,91.4 542.7,93.6 541.9,95.6 541.0,97.5 540.1,99.4 539.2,101.0 538.4,102.6 537.5,103.9 536.7,105.2 535.9,106.4 535.0,107.5 534.0,108.6 532.9,109.7 531.8,110.8 530.6,111.8 529.4,112.7 528.2,113.6 527.0,114.5 525.8,115.5 524.5,116.6 523.3,117.6 522.1,118.4 520.9,119.0 519.9,119.1 519.0,118.6 518.2,117.7 517.5,116.5 516.8,115.1 516.2,113.8 515.5,112.6 514.8,111.4 514.1,110.0 513.5,108.6 512.8,107.4 512.2,106.6 511.7,106.3 511.2,106.6 510.8,107.4 510.5,108.5 510.1,109.9 509.8,111.3 509.4,112.6 509.0,113.9 508.6,115.3 508.2,116.7 507.8,118.2 507.3,119.6 506.8,121.0 506.2,122.4 505.5,123.9 504.8,125.3 504.0,126.6 503.2,127.7 502.5,128.6 501.8,129.1 501.0,129.4 500.3,129.4 499.6,129.4 498.8,129.3 498.1,129.3 497.4,129.4 496.7,129.5 496.1,129.5 495.4,129.6 494.6,129.6 493.8,129.5 492.9,129.4 491.9,129.2 490.8,129.0 489.7,128.8 488.7,128.6 487.7,128.3 486.8,128.0 485.8,127.6 484.9,127.3 484.1,126.9 483.2,126.7 482.4,126.6 481.6,126.6 480.9,126.7 480.2,127.0 479.5,127.3 478.8,127.5 478.1,127.8 477.4,128.1 476.7,128.4 475.9,128.8 475.2,129.1 474.5,129.4 473.7,129.5 472.9,129.5 472.0,129.4 471.1,129.2 470.2,128.9 469.5,128.7 469.0,128.6" fill="#f4867a" fill-opacity="0.7"/>
<polyline points="469.0,127.3 469.5,127.4 470.2,127.6 471.1,127.9 472.0,128.1 472.9,128.2 473.7,128.2 474.5,128.1 475.2,127.8 475.9,127.5 476.7,127.1 477.4,126.8 478.1,126.5 478.8,126.2 479.5,125.9 480.2,125.6 480.9,125.4 481.6,125.2 482.4,125.2 483.2,125.3 484.1,125.6 484.9,125.9 485.8,126.3 486.8,126.7 487.7,127.0 488.7,127.3 489.7,127.5 490.8,127.7 491.9,127.9 492.9,128.1 493.8,128.2 494.6,128.3 495.4,128.3 496.1,128.2 496.7,128.2 497.4,128.1 498.1,128.0 498.8,128.0 499.6,128.1 500.3,128.1 501.0,128.1 501.8,127.8 502.5,127.3 503.2,126.4 504.0,125.3 504.8,123.9 505.5,122.4 506.2,120.9 506.8,119.5 507.3,118.1 507.8,116.6 508.2,115.1 508.6,113.6 509.0,112.1 509.4,110.8 509.8,109.4 510.1,108.0 510.5,106.6 510.8,105.4 511.2,104.6 511.7,104.3 512.2,104.6 512.8,105.5 513.5,106.7 514.1,108.1 514.8,109.6 515.5,110.8 516.2,112.0 516.8,113.4 517.5,114.8 518.2,116.1 519.0,117.0 519.9,117.5 520.9,117.4 522.1,116.8 523.3,116.0 524.5,114.9 525.8,113.8 527.0,112.8 528.2,111.9 529.4,110.9 530.6,109.9 531.8,108.9 532.9,107.8 534.0,106.7 535.0,105.5 535.9,104.4 536.7,103.2 537.5,101.9 538.4,100.5 539.2,98.9 540.1,97.2 541.0,95.3 541.9,93.3 542.7,91.2 543.6,89.0 544.4,86.7 545.2,84.1 546.0,81.3 546.8,78.3 547.5,75.5 548.2,73.0 548.8,71.0 549.3,69.5 549.7,68.4 550.0,67.6 550.4,67.1 550.7,67.0 551.2,67.1 551.7,67.6 552.3,68.6 553.0,69.8 553.6,71.3 554.3,72.9 554.9,74.5 555.5,76.3 556.1,78.3 556.7,80.4 557.3,82.6 557.8,84.7 558.4,86.7 558.9,88.5 559.4,90.1 559.9,91.7 560.3,93.3 560.9,95.0 561.5,96.8 562.2,98.9 563.0,101.1 563.8,103.4 564.7,105.7 565.6,107.9 566.4,109.8 567.2,111.5 568.0,113.0 568.8,114.5 569.7,115.7 570.5,116.9 571.3,117.9 572.1,118.8 572.9,119.5 573.6,120.0 574.4,120.5 575.3,120.9 576.2,121.2 577.2,121.4 578.3,121.6 579.5,121.6 580.6,121.6 581.7,121.6 582.7,121.5 583.6,121.4 584.5,121.3 585.3,121.2 586.0,121.0 586.8,120.7 587.6,120.4 588.4,119.9 589.1,119.4 589.9,118.7 590.7,118.1 591.5,117.5 592.4,117.1 593.4,116.8 594.5,116.7 595.6,116.6 596.8,116.6 597.9,116.5 599.0,116.3 600.1,116.0 601.2,115.5 602.3,115.0 603.3,114.6 604.1,114.2 604.7,113.9" fill="none" stroke="#ee2a2a" stroke-width="1.7" stroke-linejoin="round" stroke-linecap="round" stroke-opacity="1"/>
<text x="417.6" y="21.9" font-size="18" text-anchor="start" font-weight="bold" fill="#000" transform="translate(417.6 21.9) scale(1 1.05) translate(-417.6 -21.9)">c</text>
<text x="537.2" y="36.6" font-size="13" text-anchor="middle" font-weight="normal" fill="#303030" stroke="#303030" stroke-width="0.08" transform="translate(537.2 36.6) scale(1 1.05) translate(-537.2 -36.6)">Chosen color</text>
<line x1="476.0" y1="46.9" x2="500.4" y2="46.9" stroke="#2e3b94" stroke-width="3.8"/>
<text x="509.0" y="50.4" font-size="9.75" text-anchor="start" font-weight="normal" fill="#303030" stroke="#303030" stroke-width="0.08" transform="translate(509.0 50.4) scale(1 1.05) translate(-509.0 -50.4)">Green</text>
<line x1="476.0" y1="60.9" x2="500.4" y2="60.9" stroke="#ee2a2a" stroke-width="3.8"/>
<text x="509.0" y="64.5" font-size="9.75" text-anchor="start" font-weight="normal" fill="#303030" stroke="#303030" stroke-width="0.08" transform="translate(509.0 64.5) scale(1 1.05) translate(-509.0 -64.5)">Red</text>
<rect x="289.5" y="207.2" width="34.2" height="102.1" fill="#e7e8ea"/>
<line x1="255.5" y1="207.3" x2="255.5" y2="309.90000000000003" stroke="#231f20" stroke-width="1.2"/>
<line x1="252.1" y1="207.3" x2="255.5" y2="207.3" stroke="#231f20" stroke-width="1.2"/>
<text x="250.1" y="210.5" font-size="8.5" text-anchor="end" font-weight="normal" fill="#303030" stroke="#303030" stroke-width="0.08" transform="translate(250.1 210.5) scale(1 1.1) translate(-250.1 -210.5)">15</text>
<line x1="252.1" y1="241.4" x2="255.5" y2="241.4" stroke="#231f20" stroke-width="1.2"/>
<text x="250.1" y="244.6" font-size="8.5" text-anchor="end" font-weight="normal" fill="#303030" stroke="#303030" stroke-width="0.08" transform="translate(250.1 244.6) scale(1 1.1) translate(-250.1 -244.6)">10</text>
<line x1="252.1" y1="275.5" x2="255.5" y2="275.5" stroke="#231f20" stroke-width="1.2"/>
<text x="250.1" y="278.7" font-size="8.5" text-anchor="end" font-weight="normal" fill="#303030" stroke="#303030" stroke-width="0.08" transform="translate(250.1 278.7) scale(1 1.1) translate(-250.1 -278.7)">5</text>
<line x1="254.9" y1="309.3" x2="391.9" y2="309.3" stroke="#231f20" stroke-width="1.5"/>
<line x1="289.5" y1="309.3" x2="289.5" y2="312.3" stroke="#231f20" stroke-width="1.2"/>
<text x="289.5" y="321.4" font-size="8.5" text-anchor="middle" font-weight="normal" fill="#303030" stroke="#303030" stroke-width="0.08" transform="translate(289.5 321.4) scale(1 1.1) translate(-289.5 -321.4)">0.0</text>
<line x1="323.7" y1="309.3" x2="323.7" y2="312.3" stroke="#231f20" stroke-width="1.2"/>
<text x="323.7" y="321.4" font-size="8.5" text-anchor="middle" font-weight="normal" fill="#303030" stroke="#303030" stroke-width="0.08" transform="translate(323.7 321.4) scale(1 1.1) translate(-323.7 -321.4)">0.5</text>
<line x1="357.7" y1="309.3" x2="357.7" y2="312.3" stroke="#231f20" stroke-width="1.2"/>
<text x="357.7" y="321.4" font-size="8.5" text-anchor="middle" font-weight="normal" fill="#303030" stroke="#303030" stroke-width="0.08" transform="translate(357.7 321.4) scale(1 1.1) translate(-357.7 -321.4)">1.0</text>
<text x="230.7" y="259.1" font-size="12" text-anchor="middle" font-weight="normal" fill="#303030" stroke="#303030" stroke-width="0.08" transform="rotate(-90 230.7 259.1) translate(230.7 259.1) scale(1 1.0) translate(-230.7 -259.1)">Firing rate (spikes per s)</text>
<text x="334.5" y="336.3" font-size="12" text-anchor="middle" font-weight="normal" fill="#303030" stroke="#303030" stroke-width="0.08" transform="translate(334.5 336.3) scale(1 1.0) translate(-334.5 -336.3)">Time from target onset (s)</text>
<polygon points="255.6,274.7 256.1,275.5 256.7,276.5 257.5,277.7 258.4,279.0 259.2,280.1 260.0,281.0 260.7,281.5 261.4,281.8 262.2,282.0 262.9,282.1 263.6,282.3 264.3,282.7 265.0,283.2 265.8,283.8 266.5,284.4 267.2,285.1 268.0,285.7 268.7,286.3 269.4,286.8 270.1,287.3 270.8,287.8 271.5,288.2 272.2,288.6 273.0,288.9 273.8,289.2 274.7,289.3 275.5,289.5 276.4,289.5 277.4,289.5 278.3,289.4 279.3,289.2 280.3,288.8 281.4,288.4 282.4,287.9 283.4,287.5 284.4,287.2 285.3,286.9 286.2,286.6 287.1,286.3 287.9,286.1 288.7,286.1 289.6,286.3 290.5,286.7 291.4,287.5 292.3,288.4 293.1,289.3 294.0,290.0 294.8,290.3 295.6,290.3 296.3,290.1 297.1,289.6 297.8,289.0 298.5,288.2 299.2,287.2 299.9,285.9 300.6,284.3 301.3,282.6 302.1,280.8 302.8,279.0 303.5,277.4 304.2,275.9 305.0,274.4 305.8,272.9 306.6,271.6 307.3,270.4 307.9,269.4 308.4,268.6 308.9,268.0 309.3,267.5 309.6,267.2 310.0,267.0 310.5,267.1 311.0,267.4 311.6,267.9 312.1,268.6 312.7,269.5 313.4,270.3 314.0,271.2 314.7,272.0 315.4,272.9 316.2,273.8 316.9,274.7 317.7,275.6 318.4,276.5 319.1,277.4 319.8,278.3 320.5,279.3 321.3,280.1 322.0,280.7 322.7,281.0 323.4,280.9 324.2,280.5 324.9,279.8 325.6,279.1 326.4,278.2 327.1,277.4 327.8,276.5 328.5,275.5 329.2,274.5 329.9,273.4 330.7,272.3 331.6,271.4 332.6,270.4 333.7,269.3 334.9,268.3 336.2,267.4 337.4,266.8 338.6,266.6 339.8,266.8 341.1,267.5 342.3,268.5 343.5,269.5 344.6,270.5 345.6,271.4 346.4,272.0 347.0,272.6 347.5,273.2 348.0,273.7 348.5,274.3 349.1,274.9 349.8,275.8 350.5,276.7 351.3,277.7 352.0,278.6 352.9,279.3 353.7,279.6 354.6,279.4 355.5,278.8 356.5,277.9 357.5,277.0 358.5,276.3 359.5,276.1 360.5,276.4 361.4,277.3 362.4,278.3 363.4,279.3 364.3,280.1 365.3,280.3 366.3,280.0 367.3,279.2 368.3,278.1 369.3,276.9 370.3,275.8 371.2,274.9 372.0,274.4 372.7,274.0 373.4,273.7 374.1,273.3 374.9,272.8 375.8,271.9 376.8,270.6 377.9,269.0 379.0,267.2 380.2,265.4 381.5,263.5 382.8,261.9 384.3,260.3 385.9,258.7 387.6,257.1 389.3,255.6 390.6,254.4 391.6,253.5 391.6,258.5 390.6,259.3 389.3,260.5 387.6,261.9 385.9,263.4 384.3,265.0 382.8,266.5 381.5,268.1 380.2,269.8 379.0,271.6 377.9,273.4 376.8,274.9 375.8,276.1 374.9,277.0 374.1,277.5 373.4,277.9 372.7,278.2 372.0,278.5 371.2,279.1 370.3,279.9 369.3,281.0 368.3,282.1 367.3,283.1 366.3,283.9 365.3,284.3 364.3,284.0 363.4,283.3 362.4,282.3 361.4,281.3 360.5,280.5 359.5,280.1 358.5,280.4 357.5,281.0 356.5,281.9 355.5,282.7 354.6,283.4 353.7,283.6 352.9,283.3 352.0,282.6 351.3,281.7 350.5,280.8 349.8,279.8 349.1,279.1 348.5,278.4 348.0,277.9 347.5,277.4 347.0,276.8 346.4,276.3 345.6,275.6 344.6,274.8 343.5,273.8 342.3,272.8 341.1,271.9 339.8,271.3 338.6,271.0 337.4,271.2 336.2,271.8 334.9,272.7 333.7,273.7 332.6,274.7 331.6,275.6 330.7,276.6 329.9,277.6 329.2,278.6 328.5,279.6 327.8,280.6 327.1,281.4 326.4,282.2 325.6,283.0 324.9,283.8 324.2,284.4 323.4,284.7 322.7,284.8 322.0,284.6 321.3,284.0 320.5,283.2 319.8,282.3 319.1,281.4 318.4,280.5 317.7,279.7 316.9,278.8 316.2,278.0 315.4,277.1 314.7,276.2 314.0,275.4 313.4,274.6 312.7,273.8 312.1,273.0 311.6,272.3 311.0,271.8 310.5,271.5 310.0,271.5 309.6,271.6 309.3,271.9 308.9,272.4 308.4,273.0 307.9,273.8 307.3,274.7 306.6,275.9 305.8,277.1 305.0,278.5 304.2,280.0 303.5,281.4 302.8,283.0 302.1,284.7 301.3,286.4 300.6,288.1 299.9,289.6 299.2,290.8 298.5,291.8 297.8,292.6 297.1,293.2 296.3,293.6 295.6,293.8 294.8,293.9 294.0,293.6 293.1,292.9 292.3,292.0 291.4,291.1 290.5,290.4 289.6,289.9 288.7,289.8 287.9,289.8 287.1,290.0 286.2,290.3 285.3,290.5 284.4,290.8 283.4,291.1 282.4,291.5 281.4,292.0 280.3,292.4 279.3,292.8 278.3,293.0 277.4,293.1 276.4,293.1 275.5,293.0 274.7,292.9 273.8,292.7 273.0,292.5 272.2,292.2 271.5,291.8 270.8,291.4 270.1,290.9 269.4,290.4 268.7,289.9 268.0,289.4 267.2,288.8 266.5,288.2 265.8,287.6 265.0,287.0 264.3,286.5 263.6,286.2 262.9,286.0 262.2,285.8 261.4,285.7 260.7,285.3 260.0,284.8 259.2,284.0 258.4,282.9 257.5,281.7 256.7,280.6 256.1,279.6 255.6,278.9" fill="#9aa6dc" fill-opacity="0.75"/>
<polyline points="255.6,276.8 256.1,277.5 256.7,278.5 257.5,279.7 258.4,281.0 259.2,282.1 260.0,282.9 260.7,283.4 261.4,283.7 262.2,283.9 262.9,284.1 263.6,284.3 264.3,284.6 265.0,285.1 265.8,285.7 266.5,286.3 267.2,286.9 268.0,287.5 268.7,288.1 269.4,288.6 270.1,289.1 270.8,289.6 271.5,290.0 272.2,290.4 273.0,290.7 273.8,290.9 274.7,291.1 275.5,291.2 276.4,291.3 277.4,291.3 278.3,291.2 279.3,291.0 280.3,290.6 281.4,290.2 282.4,289.7 283.4,289.3 284.4,289.0 285.3,288.7 286.2,288.4 287.1,288.2 287.9,288.0 288.7,288.0 289.6,288.1 290.5,288.6 291.4,289.3 292.3,290.2 293.1,291.1 294.0,291.8 294.8,292.1 295.6,292.1 296.3,291.8 297.1,291.4 297.8,290.8 298.5,290.0 299.2,289.0 299.9,287.8 300.6,286.2 301.3,284.5 302.1,282.7 302.8,281.0 303.5,279.4 304.2,277.9 305.0,276.5 305.8,275.0 306.6,273.7 307.3,272.6 307.9,271.6 308.4,270.8 308.9,270.2 309.3,269.7 309.6,269.4 310.0,269.3 310.5,269.3 311.0,269.6 311.6,270.1 312.1,270.8 312.7,271.6 313.4,272.5 314.0,273.3 314.7,274.1 315.4,275.0 316.2,275.9 316.9,276.8 317.7,277.7 318.4,278.5 319.1,279.4 319.8,280.3 320.5,281.2 321.3,282.0 322.0,282.6 322.7,282.9 323.4,282.8 324.2,282.4 324.9,281.8 325.6,281.0 326.4,280.2 327.1,279.4 327.8,278.5 328.5,277.6 329.2,276.5 329.9,275.5 330.7,274.4 331.6,273.5 332.6,272.5 333.7,271.5 334.9,270.5 336.2,269.6 337.4,269.0 338.6,268.8 339.8,269.1 341.1,269.7 342.3,270.6 343.5,271.7 344.6,272.7 345.6,273.5 346.4,274.1 347.0,274.7 347.5,275.3 348.0,275.8 348.5,276.4 349.1,277.0 349.8,277.8 350.5,278.8 351.3,279.7 352.0,280.6 352.9,281.3 353.7,281.6 354.6,281.4 355.5,280.7 356.5,279.9 357.5,279.0 358.5,278.3 359.5,278.1 360.5,278.5 361.4,279.3 362.4,280.3 363.4,281.3 364.3,282.1 365.3,282.3 366.3,281.9 367.3,281.2 368.3,280.1 369.3,278.9 370.3,277.9 371.2,277.0 372.0,276.4 372.7,276.1 373.4,275.8 374.1,275.4 374.9,274.9 375.8,274.0 376.8,272.7 377.9,271.2 379.0,269.4 380.2,267.6 381.5,265.8 382.8,264.2 384.3,262.6 385.9,261.0 387.6,259.5 389.3,258.1 390.6,256.9 391.6,256.0" fill="none" stroke="#3d4ca3" stroke-width="1.5" stroke-linejoin="round" stroke-linecap="round" stroke-opacity="1"/>
<polygon points="255.6,274.2 256.2,274.0 256.9,273.6 257.9,273.1 258.9,272.8 259.9,272.6 260.8,272.9 261.7,273.7 262.6,275.0 263.5,276.5 264.3,278.0 265.2,279.2 266.1,280.0 267.0,280.3 267.8,280.1 268.7,279.7 269.6,279.3 270.4,278.9 271.3,278.8 272.2,279.1 273.1,279.5 273.9,280.0 274.8,280.6 275.7,281.0 276.5,281.3 277.3,281.2 278.0,280.9 278.8,280.5 279.5,280.2 280.2,280.0 280.9,280.0 281.6,280.5 282.3,281.2 283.0,282.0 283.8,283.0 284.5,283.8 285.2,284.5 285.9,285.1 286.6,285.5 287.3,285.9 288.1,286.3 288.8,286.7 289.6,287.2 290.4,287.7 291.3,288.4 292.2,289.1 293.1,289.7 294.0,290.1 294.8,290.3 295.6,290.4 296.3,290.3 297.0,290.1 297.7,289.7 298.4,289.1 299.2,288.1 300.0,286.6 300.9,284.7 301.8,282.5 302.7,280.2 303.6,278.2 304.4,276.5 305.2,275.2 305.9,274.0 306.7,273.1 307.4,272.3 308.1,271.7 308.8,271.2 309.5,270.8 310.2,270.7 310.9,270.6 311.6,270.7 312.3,270.9 313.1,271.2 313.9,271.5 314.8,272.1 315.6,272.7 316.5,273.3 317.5,273.9 318.4,274.2 319.4,274.4 320.4,274.5 321.4,274.4 322.4,274.3 323.5,274.1 324.5,273.8 325.5,273.5 326.6,273.1 327.6,272.5 328.6,271.9 329.6,271.1 330.5,270.1 331.3,268.8 332.1,267.2 332.9,265.4 333.6,263.6 334.3,262.0 335.1,260.7 335.9,259.7 336.7,259.1 337.5,258.5 338.3,258.1 339.1,257.7 339.8,257.1 340.4,256.3 341.0,255.3 341.5,254.3 342.0,253.4 342.6,252.9 343.3,252.8 344.1,253.4 345.1,254.6 346.1,256.1 347.1,257.6 348.1,258.8 349.1,259.5 350.0,259.7 350.9,259.5 351.9,259.0 352.8,258.4 353.8,257.7 354.9,257.1 356.1,256.4 357.5,255.5 358.9,254.5 360.4,253.6 361.8,252.9 363.0,252.4 364.1,252.3 365.1,252.6 366.1,253.0 367.0,253.5 367.9,253.7 368.8,253.5 369.7,253.0 370.5,252.1 371.3,251.1 372.1,249.9 372.8,248.7 373.5,247.6 374.1,246.5 374.7,245.3 375.3,244.0 375.8,242.8 376.4,241.6 377.0,240.6 377.7,239.7 378.5,238.8 379.3,238.1 380.1,237.4 380.9,236.6 381.6,235.8 382.2,234.9 382.7,234.0 383.2,233.1 383.8,232.1 384.4,231.1 385.1,229.9 386.1,228.4 387.3,226.6 388.6,224.7 389.8,223.0 390.9,221.4 391.6,220.4 391.6,226.6 390.9,227.7 389.8,229.1 388.6,230.8 387.3,232.6 386.1,234.3 385.1,235.7 384.4,236.9 383.8,237.9 383.2,238.9 382.7,239.7 382.2,240.6 381.6,241.4 380.9,242.2 380.1,243.0 379.3,243.7 378.5,244.4 377.7,245.2 377.0,246.0 376.4,247.0 375.8,248.2 375.3,249.3 374.7,250.5 374.1,251.7 373.5,252.8 372.8,253.9 372.1,255.0 371.3,256.1 370.5,257.1 369.7,257.9 368.8,258.5 367.9,258.6 367.0,258.4 366.1,258.0 365.1,257.6 364.1,257.3 363.0,257.4 361.8,257.9 360.4,258.6 358.9,259.4 357.5,260.4 356.1,261.2 354.9,261.9 353.8,262.5 352.8,263.2 351.9,263.8 350.9,264.2 350.0,264.4 349.1,264.3 348.1,263.6 347.1,262.4 346.1,260.9 345.1,259.5 344.1,258.4 343.3,257.8 342.6,257.9 342.0,258.4 341.5,259.2 341.0,260.2 340.4,261.1 339.8,261.9 339.1,262.5 338.3,262.9 337.5,263.3 336.7,263.8 335.9,264.4 335.1,265.3 334.3,266.6 333.6,268.2 332.9,269.9 332.1,271.6 331.3,273.2 330.5,274.5 329.6,275.4 328.6,276.2 327.6,276.8 326.6,277.2 325.5,277.6 324.5,278.0 323.5,278.3 322.4,278.5 321.4,278.6 320.4,278.6 319.4,278.5 318.4,278.4 317.5,278.0 316.5,277.5 315.6,276.9 314.8,276.3 313.9,275.8 313.1,275.4 312.3,275.2 311.6,275.0 310.9,274.9 310.2,274.9 309.5,275.1 308.8,275.4 308.1,275.9 307.4,276.5 306.7,277.3 305.9,278.2 305.2,279.3 304.4,280.5 303.6,282.1 302.7,284.1 301.8,286.3 300.9,288.4 300.0,290.3 299.2,291.7 298.4,292.6 297.7,293.3 297.0,293.7 296.3,293.9 295.6,293.9 294.8,293.9 294.0,293.6 293.1,293.2 292.2,292.6 291.3,292.0 290.4,291.4 289.6,290.8 288.8,290.4 288.1,290.0 287.3,289.6 286.6,289.2 285.9,288.8 285.2,288.3 284.5,287.6 283.8,286.8 283.0,285.9 282.3,285.1 281.6,284.4 280.9,284.0 280.2,283.9 279.5,284.1 278.8,284.4 278.0,284.8 277.3,285.1 276.5,285.1 275.7,284.9 274.8,284.5 273.9,284.0 273.1,283.4 272.2,283.0 271.3,282.8 270.4,282.9 269.6,283.2 268.7,283.7 267.8,284.0 267.0,284.2 266.1,284.0 265.2,283.2 264.3,282.0 263.5,280.5 262.6,279.1 261.7,277.9 260.8,277.1 259.9,276.9 258.9,277.0 257.9,277.3 256.9,277.7 256.2,278.1 255.6,278.4" fill="#f4867a" fill-opacity="0.7"/>
<polyline points="255.6,276.3 256.2,276.1 256.9,275.7 257.9,275.2 258.9,274.9 259.9,274.8 260.8,275.0 261.7,275.8 262.6,277.0 263.5,278.5 264.3,280.0 265.2,281.2 266.1,282.0 267.0,282.2 267.8,282.1 268.7,281.7 269.6,281.2 270.4,280.9 271.3,280.8 272.2,281.0 273.1,281.5 273.9,282.0 274.8,282.5 275.7,283.0 276.5,283.2 277.3,283.1 278.0,282.9 278.8,282.5 279.5,282.1 280.2,281.9 280.9,282.0 281.6,282.4 282.3,283.1 283.0,284.0 283.8,284.9 284.5,285.7 285.2,286.4 285.9,286.9 286.6,287.4 287.3,287.8 288.1,288.2 288.8,288.6 289.6,289.0 290.4,289.5 291.3,290.2 292.2,290.9 293.1,291.4 294.0,291.9 294.8,292.1 295.6,292.1 296.3,292.1 297.0,291.9 297.7,291.5 298.4,290.9 299.2,289.9 300.0,288.5 300.9,286.6 301.8,284.4 302.7,282.2 303.6,280.1 304.4,278.5 305.2,277.2 305.9,276.1 306.7,275.2 307.4,274.4 308.1,273.8 308.8,273.3 309.5,273.0 310.2,272.8 310.9,272.8 311.6,272.9 312.3,273.1 313.1,273.3 313.9,273.7 314.8,274.2 315.6,274.8 316.5,275.4 317.5,276.0 318.4,276.3 319.4,276.5 320.4,276.5 321.4,276.5 322.4,276.4 323.5,276.2 324.5,275.9 325.5,275.6 326.6,275.1 327.6,274.7 328.6,274.0 329.6,273.3 330.5,272.3 331.3,271.0 332.1,269.4 332.9,267.6 333.6,265.9 334.3,264.3 335.1,263.0 335.9,262.1 336.7,261.4 337.5,260.9 338.3,260.5 339.1,260.1 339.8,259.5 340.4,258.7 341.0,257.8 341.5,256.8 342.0,255.9 342.6,255.4 343.3,255.3 344.1,255.9 345.1,257.0 346.1,258.5 347.1,260.0 348.1,261.2 349.1,261.9 350.0,262.0 350.9,261.8 351.9,261.4 352.8,260.8 353.8,260.1 354.9,259.5 356.1,258.8 357.5,257.9 358.9,257.0 360.4,256.1 361.8,255.4 363.0,254.9 364.1,254.8 365.1,255.1 366.1,255.5 367.0,255.9 367.9,256.2 368.8,256.0 369.7,255.4 370.5,254.6 371.3,253.6 372.1,252.5 372.8,251.3 373.5,250.2 374.1,249.1 374.7,247.9 375.3,246.7 375.8,245.5 376.4,244.3 377.0,243.3 377.7,242.4 378.5,241.6 379.3,240.9 380.1,240.2 380.9,239.4 381.6,238.6 382.2,237.7 382.7,236.9 383.2,236.0 383.8,235.0 384.4,234.0 385.1,232.8 386.1,231.3 387.3,229.6 388.6,227.8 389.8,226.0 390.9,224.6 391.6,223.5" fill="none" stroke="#ee2a2a" stroke-width="1.7" stroke-linejoin="round" stroke-linecap="round" stroke-opacity="1"/>
<text x="204.9" y="187.0" font-size="18" text-anchor="start" font-weight="bold" fill="#000" transform="translate(204.9 187.0) scale(1 1.05) translate(-204.9 -187.0)">d</text>
<text x="323.9" y="204.9" font-size="13" text-anchor="middle" font-weight="normal" fill="#303030" stroke="#303030" stroke-width="0.08" transform="translate(323.9 204.9) scale(1 1.05) translate(-323.9 -204.9)">Chosen location</text>
<line x1="263.0" y1="214.7" x2="286.7" y2="214.7" stroke="#2e3b94" stroke-width="3.8"/>
<text x="295.2" y="218.2" font-size="9.75" text-anchor="start" font-weight="normal" fill="#303030" stroke="#303030" stroke-width="0.08" transform="translate(295.2 218.2) scale(1 1.05) translate(-295.2 -218.2)">Left</text>
<line x1="263.0" y1="228.89999999999998" x2="286.7" y2="228.89999999999998" stroke="#ee2a2a" stroke-width="3.8"/>
<text x="295.2" y="231.5" font-size="9.75" text-anchor="start" font-weight="normal" fill="#303030" stroke="#303030" stroke-width="0.08" transform="translate(295.2 231.5) scale(1 1.05) translate(-295.2 -231.5)">Right</text>
<rect x="503.0" y="207.0" width="34.0" height="102.8" fill="#e7e8ea"/>
<line x1="468.8" y1="207.4" x2="468.8" y2="310.40000000000003" stroke="#231f20" stroke-width="1.2"/>
<line x1="465.40000000000003" y1="207.2" x2="468.8" y2="207.2" stroke="#231f20" stroke-width="1.2"/>
<text x="463.2" y="210.39999999999998" font-size="8.5" text-anchor="end" font-weight="normal" fill="#303030" stroke="#303030" stroke-width="0.08" transform="translate(463.2 210.39999999999998) scale(1 1.1) translate(-463.2 -210.39999999999998)">40</text>
<line x1="465.40000000000003" y1="232.7" x2="468.8" y2="232.7" stroke="#231f20" stroke-width="1.2"/>
<text x="463.2" y="235.89999999999998" font-size="8.5" text-anchor="end" font-weight="normal" fill="#303030" stroke="#303030" stroke-width="0.08" transform="translate(463.2 235.89999999999998) scale(1 1.1) translate(-463.2 -235.89999999999998)">30</text>
<line x1="465.40000000000003" y1="258.5" x2="468.8" y2="258.5" stroke="#231f20" stroke-width="1.2"/>
<text x="463.2" y="261.7" font-size="8.5" text-anchor="end" font-weight="normal" fill="#303030" stroke="#303030" stroke-width="0.08" transform="translate(463.2 261.7) scale(1 1.1) translate(-463.2 -261.7)">20</text>
<line x1="465.40000000000003" y1="283.9" x2="468.8" y2="283.9" stroke="#231f20" stroke-width="1.2"/>
<text x="463.2" y="287.09999999999997" font-size="8.5" text-anchor="end" font-weight="normal" fill="#303030" stroke="#303030" stroke-width="0.08" transform="translate(463.2 287.09999999999997) scale(1 1.1) translate(-463.2 -287.09999999999997)">10</text>
<line x1="468.2" y1="309.8" x2="605.4" y2="309.8" stroke="#231f20" stroke-width="1.5"/>
<line x1="503.0" y1="309.8" x2="503.0" y2="312.8" stroke="#231f20" stroke-width="1.2"/>
<text x="503.0" y="321.4" font-size="8.5" text-anchor="middle" font-weight="normal" fill="#303030" stroke="#303030" stroke-width="0.08" transform="translate(503.0 321.4) scale(1 1.1) translate(-503.0 -321.4)">0.0</text>
<line x1="536.8" y1="309.8" x2="536.8" y2="312.8" stroke="#231f20" stroke-width="1.2"/>
<text x="536.8" y="321.4" font-size="8.5" text-anchor="middle" font-weight="normal" fill="#303030" stroke="#303030" stroke-width="0.08" transform="translate(536.8 321.4) scale(1 1.1) translate(-536.8 -321.4)">0.5</text>
<line x1="571.0" y1="309.8" x2="571.0" y2="312.8" stroke="#231f20" stroke-width="1.2"/>
<text x="571.0" y="321.4" font-size="8.5" text-anchor="middle" font-weight="normal" fill="#303030" stroke="#303030" stroke-width="0.08" transform="translate(571.0 321.4) scale(1 1.1) translate(-571.0 -321.4)">1.0</text>
<text x="444.3" y="258.9" font-size="12" text-anchor="middle" font-weight="normal" fill="#303030" stroke="#303030" stroke-width="0.08" transform="rotate(-90 444.3 258.9) translate(444.3 258.9) scale(1 1.0) translate(-444.3 -258.9)">Firing rate (spikes per s)</text>
<text x="537.0" y="336.3" font-size="12" text-anchor="middle" font-weight="normal" fill="#303030" stroke="#303030" stroke-width="0.08" transform="translate(537.0 336.3) scale(1 1.0) translate(-537.0 -336.3)">Time from target onset (s)</text>
<polygon points="469.0,305.6 469.5,305.8 470.0,305.9 470.5,306.0 471.0,306.1 471.5,306.1 472.0,306.1 472.5,306.1 473.0,306.1 473.5,306.0 474.0,305.9 474.5,305.8 475.0,305.7 475.5,305.6 476.0,305.5 476.5,305.4 477.0,305.4 477.5,305.4 478.0,305.4 478.5,305.5 479.0,305.6 479.5,305.7 480.0,305.9 480.5,306.1 481.0,306.3 481.5,306.4 482.0,306.6 482.5,306.7 483.0,306.9 483.5,307.0 484.0,307.0 484.5,307.1 485.0,307.1 485.5,307.2 486.0,307.2 486.5,307.2 487.0,307.2 487.5,307.3 488.0,307.3 488.5,307.3 489.0,307.3 489.5,307.3 490.0,307.3 490.5,307.3 491.0,307.3 491.5,307.3 492.0,307.3 492.5,307.3 493.0,307.3 493.5,307.3 494.0,307.3 494.5,307.3 495.0,307.3 495.5,307.3 496.0,307.3 496.5,307.3 497.0,307.3 497.5,307.3 498.0,307.3 498.5,307.3 499.0,307.3 499.5,307.3 500.0,307.3 500.5,307.3 501.0,307.3 501.5,307.3 502.0,307.3 502.5,307.3 503.0,307.3 503.5,307.3 504.0,307.3 504.5,307.3 505.0,307.3 505.5,307.3 506.0,307.3 506.5,307.2 507.0,307.2 507.5,307.2 508.0,307.2 508.5,307.1 509.0,307.1 509.5,307.1 510.0,307.0 510.5,306.9 511.0,306.9 511.5,306.8 512.0,306.7 512.5,306.6 513.0,306.5 513.5,306.4 514.0,306.2 514.5,306.1 515.0,306.0 515.5,305.9 516.0,305.7 516.5,305.6 517.0,305.5 517.5,305.4 518.0,305.3 518.5,305.2 519.0,305.2 519.5,305.2 520.0,305.1 520.5,305.2 521.0,305.2 521.5,305.2 522.0,305.3 522.5,305.4 523.0,305.5 523.5,305.6 524.0,305.7 524.5,305.9 525.0,306.0 525.5,306.1 526.0,306.2 526.5,306.4 527.0,306.5 527.5,306.6 528.0,306.7 528.5,306.8 529.0,306.9 529.5,306.9 530.0,307.0 530.5,307.1 531.0,307.1 531.5,307.1 532.0,307.2 532.5,307.2 533.0,307.2 533.5,307.2 534.0,307.3 534.5,307.3 535.0,307.3 535.5,307.3 536.0,307.3 536.5,307.3 537.0,307.3 537.5,307.3 538.0,307.2 538.5,307.2 539.0,307.2 539.5,307.1 540.0,307.0 540.5,306.8 541.0,306.6 541.5,306.4 542.0,306.0 542.5,305.6 543.0,305.1 543.5,304.5 544.0,303.8 544.5,303.0 545.0,302.1 545.5,301.2 546.0,300.2 546.5,299.3 547.0,298.4 547.5,297.6 548.0,297.0 548.5,296.6 549.0,296.3 549.5,296.3 550.0,296.5 550.5,296.9 551.0,297.5 551.5,298.3 552.0,299.1 552.5,300.0 553.0,301.0 553.5,301.9 554.0,302.8 554.5,303.6 555.0,304.3 555.5,304.8 556.0,305.2 556.5,305.5 557.0,305.7 557.5,305.8 558.0,305.7 558.5,305.6 559.0,305.5 559.5,305.3 560.0,305.2 560.5,305.1 561.0,305.1 561.5,305.2 562.0,305.3 562.5,305.5 563.0,305.7 563.5,306.0 564.0,306.2 564.5,306.5 565.0,306.7 565.5,306.9 566.0,307.0 566.5,307.1 567.0,307.2 567.5,307.2 568.0,307.3 568.5,307.3 569.0,307.3 569.5,307.3 570.0,307.3 570.5,307.3 571.0,307.3 571.5,307.3 572.0,307.3 572.5,307.3 573.0,307.3 573.5,307.3 574.0,307.3 574.5,307.3 575.0,307.3 575.5,307.3 576.0,307.3 576.5,307.3 577.0,307.3 577.5,307.3 578.0,307.3 578.5,307.3 579.0,307.3 579.5,307.3 580.0,307.3 580.5,307.3 581.0,307.3 581.5,307.3 582.0,307.3 582.5,307.3 583.0,307.3 583.5,307.3 584.0,307.3 584.5,307.3 585.0,307.3 585.5,307.3 586.0,307.3 586.5,307.3 587.0,307.3 587.5,307.3 588.0,307.3 588.5,307.3 589.0,307.3 589.5,307.3 590.0,307.3 590.5,307.3 591.0,307.3 591.5,307.3 592.0,307.3 592.5,307.3 593.0,307.3 593.5,307.3 594.0,307.3 594.5,307.3 595.0,307.3 595.5,307.2 596.0,307.1 596.5,307.0 597.0,306.9 597.5,306.8 598.0,306.7 598.5,306.5 599.0,306.3 599.5,306.1 600.0,305.9 600.5,305.6 601.0,305.3 601.5,305.0 602.0,304.7 602.5,304.4 603.0,304.0 603.5,303.7 604.0,303.3 604.5,302.9 605.0,302.4 605.0,305.4 604.5,305.7 604.0,306.1 603.5,306.4 603.0,306.7 602.5,307.0 602.0,307.3 601.5,307.6 601.0,307.8 600.5,308.1 600.0,308.3 599.5,308.5 599.0,308.6 598.5,308.8 598.0,309.0 597.5,309.1 597.0,309.2 596.5,309.3 596.0,309.4 595.5,309.4 595.0,309.5 594.5,309.5 594.0,309.5 593.5,309.5 593.0,309.5 592.5,309.5 592.0,309.5 591.5,309.5 591.0,309.5 590.5,309.5 590.0,309.5 589.5,309.5 589.0,309.5 588.5,309.5 588.0,309.5 587.5,309.5 587.0,309.5 586.5,309.5 586.0,309.5 585.5,309.5 585.0,309.5 584.5,309.5 584.0,309.5 583.5,309.5 583.0,309.5 582.5,309.5 582.0,309.5 581.5,309.5 581.0,309.5 580.5,309.5 580.0,309.5 579.5,309.5 579.0,309.5 578.5,309.5 578.0,309.5 577.5,309.5 577.0,309.5 576.5,309.5 576.0,309.5 575.5,309.5 575.0,309.5 574.5,309.5 574.0,309.5 573.5,309.5 573.0,309.5 572.5,309.5 572.0,309.5 571.5,309.5 571.0,309.5 570.5,309.5 570.0,309.5 569.5,309.5 569.0,309.5 568.5,309.5 568.0,309.5 567.5,309.4 567.0,309.4 566.5,309.3 566.0,309.3 565.5,309.1 565.0,309.0 564.5,308.8 564.0,308.6 563.5,308.4 563.0,308.2 562.5,308.0 562.0,307.8 561.5,307.7 561.0,307.6 560.5,307.6 560.0,307.7 559.5,307.8 559.0,308.0 558.5,308.1 558.0,308.2 557.5,308.2 557.0,308.2 556.5,308.0 556.0,307.7 555.5,307.4 555.0,306.9 554.5,306.3 554.0,305.7 553.5,304.9 553.0,304.1 552.5,303.3 552.0,302.5 551.5,301.8 551.0,301.2 550.5,300.7 550.0,300.3 549.5,300.1 549.0,300.2 548.5,300.4 548.0,300.7 547.5,301.3 547.0,301.9 546.5,302.7 546.0,303.5 545.5,304.3 545.0,305.1 544.5,305.8 544.0,306.5 543.5,307.1 543.0,307.6 542.5,308.1 542.0,308.4 541.5,308.7 541.0,308.9 540.5,309.1 540.0,309.2 539.5,309.3 539.0,309.4 538.5,309.4 538.0,309.4 537.5,309.5 537.0,309.5 536.5,309.5 536.0,309.5 535.5,309.5 535.0,309.5 534.5,309.5 534.0,309.5 533.5,309.5 533.0,309.4 532.5,309.4 532.0,309.4 531.5,309.4 531.0,309.3 530.5,309.3 530.0,309.3 529.5,309.2 529.0,309.1 528.5,309.1 528.0,309.0 527.5,308.9 527.0,308.8 526.5,308.7 526.0,308.6 525.5,308.5 525.0,308.4 524.5,308.3 524.0,308.2 523.5,308.1 523.0,308.0 522.5,307.9 522.0,307.8 521.5,307.7 521.0,307.7 520.5,307.7 520.0,307.7 519.5,307.7 519.0,307.7 518.5,307.7 518.0,307.8 517.5,307.9 517.0,308.0 516.5,308.1 516.0,308.2 515.5,308.3 515.0,308.4 514.5,308.5 514.0,308.6 513.5,308.7 513.0,308.8 512.5,308.9 512.0,309.0 511.5,309.1 511.0,309.1 510.5,309.2 510.0,309.3 509.5,309.3 509.0,309.3 508.5,309.4 508.0,309.4 507.5,309.4 507.0,309.4 506.5,309.5 506.0,309.5 505.5,309.5 505.0,309.5 504.5,309.5 504.0,309.5 503.5,309.5 503.0,309.5 502.5,309.5 502.0,309.5 501.5,309.5 501.0,309.5 500.5,309.5 500.0,309.5 499.5,309.5 499.0,309.5 498.5,309.5 498.0,309.5 497.5,309.5 497.0,309.5 496.5,309.5 496.0,309.5 495.5,309.5 495.0,309.5 494.5,309.5 494.0,309.5 493.5,309.5 493.0,309.5 492.5,309.5 492.0,309.5 491.5,309.5 491.0,309.5 490.5,309.5 490.0,309.5 489.5,309.5 489.0,309.5 488.5,309.5 488.0,309.5 487.5,309.5 487.0,309.5 486.5,309.4 486.0,309.4 485.5,309.4 485.0,309.4 484.5,309.3 484.0,309.3 483.5,309.2 483.0,309.1 482.5,309.0 482.0,308.9 481.5,308.8 481.0,308.6 480.5,308.5 480.0,308.3 479.5,308.2 479.0,308.1 478.5,308.0 478.0,307.9 477.5,307.9 477.0,307.9 476.5,307.9 476.0,308.0 475.5,308.1 475.0,308.2 474.5,308.2 474.0,308.3 473.5,308.4 473.0,308.5 472.5,308.5 472.0,308.5 471.5,308.5 471.0,308.4 470.5,308.4 470.0,308.3 469.5,308.2 469.0,308.1" fill="#9a9a9a" fill-opacity="0.75"/>
<polygon points="469.0,305.2 469.5,305.4 470.0,305.5 470.5,305.6 471.0,305.6 471.5,305.6 472.0,305.5 472.5,305.4 473.0,305.2 473.5,304.9 474.0,304.6 474.5,304.3 475.0,303.9 475.5,303.6 476.0,303.2 476.5,303.0 477.0,302.8 477.5,302.8 478.0,302.8 478.5,303.0 479.0,303.2 479.5,303.6 480.0,304.0 480.5,304.4 481.0,304.8 481.5,305.3 482.0,305.7 482.5,306.0 483.0,306.3 483.5,306.5 484.0,306.7 484.5,306.9 485.0,307.0 485.5,307.1 486.0,307.1 486.5,307.2 487.0,307.2 487.5,307.2 488.0,307.2 488.5,307.3 489.0,307.3 489.5,307.3 490.0,307.3 490.5,307.3 491.0,307.3 491.5,307.3 492.0,307.3 492.5,307.3 493.0,307.3 493.5,307.3 494.0,307.3 494.5,307.3 495.0,307.3 495.5,307.3 496.0,307.3 496.5,307.3 497.0,307.3 497.5,307.3 498.0,307.3 498.5,307.3 499.0,307.3 499.5,307.3 500.0,307.3 500.5,307.3 501.0,307.3 501.5,307.3 502.0,307.3 502.5,307.3 503.0,307.3 503.5,307.3 504.0,307.3 504.5,307.3 505.0,307.3 505.5,307.3 506.0,307.2 506.5,307.2 507.0,307.2 507.5,307.2 508.0,307.1 508.5,307.1 509.0,307.1 509.5,307.0 510.0,306.9 510.5,306.8 511.0,306.8 511.5,306.7 512.0,306.5 512.5,306.4 513.0,306.3 513.5,306.1 514.0,306.0 514.5,305.8 515.0,305.6 515.5,305.5 516.0,305.3 516.5,305.1 517.0,305.0 517.5,304.9 518.0,304.8 518.5,304.7 519.0,304.6 519.5,304.6 520.0,304.5 520.5,304.6 521.0,304.6 521.5,304.7 522.0,304.8 522.5,304.9 523.0,305.0 523.5,305.1 524.0,305.3 524.5,305.5 525.0,305.6 525.5,305.8 526.0,306.0 526.5,306.1 527.0,306.3 527.5,306.4 528.0,306.5 528.5,306.7 529.0,306.8 529.5,306.8 530.0,306.9 530.5,307.0 531.0,307.1 531.5,307.1 532.0,307.1 532.5,307.2 533.0,307.2 533.5,307.2 534.0,307.2 534.5,307.3 535.0,307.3 535.5,307.3 536.0,307.3 536.5,307.3 537.0,307.3 537.5,307.2 538.0,307.2 538.5,307.1 539.0,307.0 539.5,306.9 540.0,306.6 540.5,306.3 541.0,305.9 541.5,305.3 542.0,304.6 542.5,303.7 543.0,302.6 543.5,301.3 544.0,299.8 544.5,298.1 545.0,296.4 545.5,294.6 546.0,292.8 546.5,291.1 547.0,289.7 547.5,288.6 548.0,287.8 548.5,287.5 549.0,287.6 549.5,288.2 550.0,289.2 550.5,290.5 551.0,292.1 551.5,293.8 552.0,295.7 552.5,297.4 553.0,299.1 553.5,300.7 554.0,302.1 554.5,303.2 555.0,304.1 555.5,304.7 556.0,305.1 556.5,305.2 557.0,305.0 557.5,304.6 558.0,304.0 558.5,303.3 559.0,302.4 559.5,301.7 560.0,301.1 560.5,300.7 561.0,300.7 561.5,301.0 562.0,301.6 562.5,302.4 563.0,303.3 563.5,304.2 564.0,305.0 564.5,305.7 565.0,306.2 565.5,306.6 566.0,306.9 566.5,307.1 567.0,307.2 567.5,307.2 568.0,307.3 568.5,307.3 569.0,307.3 569.5,307.3 570.0,307.3 570.5,307.3 571.0,307.3 571.5,307.3 572.0,307.3 572.5,307.3 573.0,307.3 573.5,307.3 574.0,307.3 574.5,307.3 575.0,307.3 575.5,307.3 576.0,307.3 576.5,307.3 577.0,307.3 577.5,307.3 578.0,307.3 578.5,307.3 579.0,307.3 579.5,307.2 580.0,307.2 580.5,307.2 581.0,307.1 581.5,307.0 582.0,306.9 582.5,306.8 583.0,306.6 583.5,306.3 584.0,306.1 584.5,305.8 585.0,305.5 585.5,305.2 586.0,304.9 586.5,304.6 587.0,304.4 587.5,304.3 588.0,304.2 588.5,304.2 589.0,304.4 589.5,304.5 590.0,304.8 590.5,305.1 591.0,305.4 591.5,305.7 592.0,306.0 592.5,306.2 593.0,306.5 593.5,306.7 594.0,306.9 594.5,307.0 595.0,307.1 595.5,307.1 596.0,307.1 596.5,307.1 597.0,307.1 597.5,307.0 598.0,306.9 598.5,306.8 599.0,306.7 599.5,306.6 600.0,306.5 600.5,306.3 601.0,306.2 601.5,306.0 602.0,305.8 602.5,305.7 603.0,305.5 603.5,305.2 604.0,305.0 604.5,304.8 605.0,304.5 605.0,307.2 604.5,307.4 604.0,307.6 603.5,307.8 603.0,308.0 602.5,308.2 602.0,308.3 601.5,308.5 601.0,308.6 600.5,308.7 600.0,308.8 599.5,308.9 599.0,309.0 598.5,309.1 598.0,309.2 597.5,309.3 597.0,309.3 596.5,309.3 596.0,309.3 595.5,309.3 595.0,309.3 594.5,309.2 594.0,309.1 593.5,309.0 593.0,308.8 592.5,308.6 592.0,308.4 591.5,308.2 591.0,307.9 590.5,307.7 590.0,307.4 589.5,307.2 589.0,307.1 588.5,307.0 588.0,307.0 587.5,307.0 587.0,307.1 586.5,307.3 586.0,307.5 585.5,307.8 585.0,308.0 584.5,308.3 584.0,308.5 583.5,308.7 583.0,308.9 582.5,309.1 582.0,309.2 581.5,309.3 581.0,309.3 580.5,309.4 580.0,309.4 579.5,309.5 579.0,309.5 578.5,309.5 578.0,309.5 577.5,309.5 577.0,309.5 576.5,309.5 576.0,309.5 575.5,309.5 575.0,309.5 574.5,309.5 574.0,309.5 573.5,309.5 573.0,309.5 572.5,309.5 572.0,309.5 571.5,309.5 571.0,309.5 570.5,309.5 570.0,309.5 569.5,309.5 569.0,309.5 568.5,309.5 568.0,309.5 567.5,309.4 567.0,309.4 566.5,309.3 566.0,309.2 565.5,308.9 565.0,308.6 564.5,308.2 564.0,307.6 563.5,307.0 563.0,306.2 562.5,305.5 562.0,304.8 561.5,304.4 561.0,304.1 560.5,304.1 560.0,304.4 559.5,304.9 559.0,305.5 558.5,306.2 558.0,306.8 557.5,307.3 557.0,307.7 556.5,307.8 556.0,307.7 555.5,307.4 555.0,306.9 554.5,306.1 554.0,305.2 553.5,304.1 553.0,302.8 552.5,301.4 552.0,300.0 551.5,298.5 551.0,297.1 550.5,295.8 550.0,294.7 549.5,293.9 549.0,293.4 548.5,293.3 548.0,293.6 547.5,294.2 547.0,295.1 546.5,296.3 546.0,297.6 545.5,299.1 545.0,300.6 544.5,302.0 544.0,303.4 543.5,304.6 543.0,305.7 542.5,306.6 542.0,307.3 541.5,307.9 541.0,308.4 540.5,308.7 540.0,309.0 539.5,309.1 539.0,309.3 538.5,309.3 538.0,309.4 537.5,309.4 537.0,309.5 536.5,309.5 536.0,309.5 535.5,309.5 535.0,309.5 534.5,309.5 534.0,309.5 533.5,309.4 533.0,309.4 532.5,309.4 532.0,309.4 531.5,309.3 531.0,309.3 530.5,309.3 530.0,309.2 529.5,309.1 529.0,309.1 528.5,309.0 528.0,308.9 527.5,308.8 527.0,308.7 526.5,308.5 526.0,308.4 525.5,308.3 525.0,308.1 524.5,308.0 524.0,307.9 523.5,307.7 523.0,307.6 522.5,307.5 522.0,307.4 521.5,307.3 521.0,307.3 520.5,307.3 520.0,307.2 519.5,307.3 519.0,307.3 518.5,307.3 518.0,307.4 517.5,307.5 517.0,307.6 516.5,307.7 516.0,307.9 515.5,308.0 515.0,308.1 514.5,308.3 514.0,308.4 513.5,308.5 513.0,308.7 512.5,308.8 512.0,308.9 511.5,309.0 511.0,309.1 510.5,309.1 510.0,309.2 509.5,309.3 509.0,309.3 508.5,309.3 508.0,309.4 507.5,309.4 507.0,309.4 506.5,309.4 506.0,309.5 505.5,309.5 505.0,309.5 504.5,309.5 504.0,309.5 503.5,309.5 503.0,309.5 502.5,309.5 502.0,309.5 501.5,309.5 501.0,309.5 500.5,309.5 500.0,309.5 499.5,309.5 499.0,309.5 498.5,309.5 498.0,309.5 497.5,309.5 497.0,309.5 496.5,309.5 496.0,309.5 495.5,309.5 495.0,309.5 494.5,309.5 494.0,309.5 493.5,309.5 493.0,309.5 492.5,309.5 492.0,309.5 491.5,309.5 491.0,309.5 490.5,309.5 490.0,309.5 489.5,309.5 489.0,309.5 488.5,309.5 488.0,309.5 487.5,309.4 487.0,309.4 486.5,309.4 486.0,309.4 485.5,309.3 485.0,309.3 484.5,309.2 484.0,309.0 483.5,308.9 483.0,308.7 482.5,308.4 482.0,308.2 481.5,307.8 481.0,307.5 480.5,307.1 480.0,306.8 479.5,306.4 479.0,306.2 478.5,306.0 478.0,305.8 477.5,305.8 477.0,305.8 476.5,306.0 476.0,306.2 475.5,306.4 475.0,306.7 474.5,307.0 474.0,307.3 473.5,307.5 473.0,307.8 472.5,307.9 472.0,308.0 471.5,308.1 471.0,308.1 470.5,308.1 470.0,308.0 469.5,307.9 469.0,307.8" fill="#9aa6dc" fill-opacity="0.75"/>
<polygon points="469.0,305.6 469.5,305.8 470.0,305.9 470.5,306.0 471.0,306.1 471.5,306.1 472.0,306.1 472.5,306.1 473.0,306.1 473.5,306.0 474.0,306.0 474.5,305.9 475.0,305.7 475.5,305.6 476.0,305.5 476.5,305.5 477.0,305.4 477.5,305.4 478.0,305.4 478.5,305.5 479.0,305.6 479.5,305.8 480.0,305.9 480.5,306.1 481.0,306.3 481.5,306.5 482.0,306.6 482.5,306.7 483.0,306.9 483.5,307.0 484.0,307.0 484.5,307.1 485.0,307.2 485.5,307.2 486.0,307.2 486.5,307.2 487.0,307.2 487.5,307.3 488.0,307.3 488.5,307.3 489.0,307.3 489.5,307.3 490.0,307.3 490.5,307.3 491.0,307.3 491.5,307.3 492.0,307.3 492.5,307.3 493.0,307.3 493.5,307.3 494.0,307.3 494.5,307.3 495.0,307.3 495.5,307.3 496.0,307.3 496.5,307.3 497.0,307.3 497.5,307.3 498.0,307.3 498.5,307.3 499.0,307.3 499.5,307.3 500.0,307.3 500.5,307.3 501.0,307.3 501.5,307.3 502.0,307.3 502.5,307.3 503.0,307.3 503.5,307.3 504.0,307.2 504.5,307.2 505.0,307.2 505.5,307.2 506.0,307.2 506.5,307.1 507.0,307.1 507.5,307.0 508.0,307.0 508.5,306.9 509.0,306.8 509.5,306.7 510.0,306.6 510.5,306.5 511.0,306.3 511.5,306.2 512.0,306.0 512.5,305.8 513.0,305.6 513.5,305.5 514.0,305.3 514.5,305.0 515.0,304.8 515.5,304.6 516.0,304.5 516.5,304.3 517.0,304.1 517.5,304.0 518.0,303.8 518.5,303.7 519.0,303.7 519.5,303.6 520.0,303.6 520.5,303.6 521.0,303.7 521.5,303.7 522.0,303.8 522.5,304.0 523.0,304.1 523.5,304.3 524.0,304.5 524.5,304.6 525.0,304.8 525.5,305.0 526.0,305.3 526.5,305.5 527.0,305.6 527.5,305.8 528.0,306.0 528.5,306.2 529.0,306.3 529.5,306.5 530.0,306.6 530.5,306.7 531.0,306.8 531.5,306.9 532.0,307.0 532.5,307.0 533.0,307.1 533.5,307.1 534.0,307.1 534.5,307.2 535.0,307.2 535.5,307.2 536.0,307.1 536.5,307.1 537.0,307.0 537.5,306.8 538.0,306.5 538.5,306.2 539.0,305.7 539.5,305.0 540.0,304.0 540.5,302.8 541.0,301.2 541.5,299.3 542.0,296.9 542.5,294.1 543.0,290.8 543.5,287.2 544.0,283.2 544.5,279.0 545.0,274.7 545.5,270.5 546.0,266.6 546.5,263.1 547.0,260.3 547.5,258.3 548.0,257.2 548.5,257.1 549.0,258.0 549.5,259.8 550.0,262.5 550.5,265.8 551.0,269.7 551.5,273.8 552.0,278.1 552.5,282.3 553.0,286.4 553.5,290.1 554.0,293.5 554.5,296.4 555.0,298.8 555.5,300.9 556.0,302.5 556.5,303.8 557.0,304.8 557.5,305.5 558.0,306.1 558.5,306.5 559.0,306.7 559.5,306.9 560.0,307.0 560.5,307.1 561.0,307.1 561.5,307.0 562.0,307.0 562.5,306.9 563.0,306.8 563.5,306.6 564.0,306.4 564.5,306.2 565.0,306.0 565.5,305.8 566.0,305.6 566.5,305.4 567.0,305.3 567.5,305.2 568.0,305.2 568.5,305.2 569.0,305.3 569.5,305.4 570.0,305.6 570.5,305.8 571.0,306.0 571.5,306.2 572.0,306.4 572.5,306.6 573.0,306.8 573.5,306.9 574.0,307.0 574.5,307.1 575.0,307.2 575.5,307.2 576.0,307.2 576.5,307.3 577.0,307.3 577.5,307.3 578.0,307.3 578.5,307.3 579.0,307.3 579.5,307.3 580.0,307.3 580.5,307.3 581.0,307.3 581.5,307.3 582.0,307.3 582.5,307.3 583.0,307.3 583.5,307.3 584.0,307.3 584.5,307.3 585.0,307.3 585.5,307.3 586.0,307.3 586.5,307.3 587.0,307.3 587.5,307.3 588.0,307.3 588.5,307.3 589.0,307.3 589.5,307.3 590.0,307.3 590.5,307.3 591.0,307.3 591.5,307.3 592.0,307.3 592.5,307.3 593.0,307.3 593.5,307.3 594.0,307.3 594.5,307.3 595.0,307.2 595.5,307.1 596.0,307.0 596.5,306.8 597.0,306.6 597.5,306.4 598.0,306.1 598.5,305.8 599.0,305.4 599.5,305.0 600.0,304.6 600.5,304.2 601.0,303.7 601.5,303.1 602.0,302.5 602.5,301.9 603.0,301.3 603.5,300.6 604.0,299.9 604.5,299.1 605.0,298.3 605.0,301.5 604.5,302.2 604.0,302.9 603.5,303.5 603.0,304.2 602.5,304.7 602.0,305.3 601.5,305.8 601.0,306.3 600.5,306.7 600.0,307.1 599.5,307.5 599.0,307.8 598.5,308.2 598.0,308.4 597.5,308.7 597.0,308.9 596.5,309.1 596.0,309.2 595.5,309.4 595.0,309.4 594.5,309.5 594.0,309.5 593.5,309.5 593.0,309.5 592.5,309.5 592.0,309.5 591.5,309.5 591.0,309.5 590.5,309.5 590.0,309.5 589.5,309.5 589.0,309.5 588.5,309.5 588.0,309.5 587.5,309.5 587.0,309.5 586.5,309.5 586.0,309.5 585.5,309.5 585.0,309.5 584.5,309.5 584.0,309.5 583.5,309.5 583.0,309.5 582.5,309.5 582.0,309.5 581.5,309.5 581.0,309.5 580.5,309.5 580.0,309.5 579.5,309.5 579.0,309.5 578.5,309.5 578.0,309.5 577.5,309.5 577.0,309.5 576.5,309.5 576.0,309.4 575.5,309.4 575.0,309.4 574.5,309.3 574.0,309.2 573.5,309.1 573.0,309.0 572.5,308.9 572.0,308.7 571.5,308.5 571.0,308.4 570.5,308.2 570.0,308.0 569.5,307.8 569.0,307.7 568.5,307.6 568.0,307.6 567.5,307.6 567.0,307.7 566.5,307.8 566.0,308.0 565.5,308.2 565.0,308.4 564.5,308.5 564.0,308.7 563.5,308.9 563.0,309.0 562.5,309.1 562.0,309.2 561.5,309.3 561.0,309.3 560.5,309.3 560.0,309.3 559.5,309.2 559.0,309.0 558.5,308.8 558.0,308.4 557.5,307.9 557.0,307.3 556.5,306.4 556.0,305.3 555.5,303.8 555.0,302.0 554.5,299.8 554.0,297.2 553.5,294.3 553.0,291.0 552.5,287.4 552.0,283.6 551.5,279.8 551.0,276.1 550.5,272.7 550.0,269.8 549.5,267.4 549.0,265.8 548.5,265.0 548.0,265.1 547.5,266.1 547.0,267.8 546.5,270.3 546.0,273.4 545.5,276.9 545.0,280.6 544.5,284.4 544.0,288.1 543.5,291.6 543.0,294.9 542.5,297.8 542.0,300.3 541.5,302.4 541.0,304.1 540.5,305.5 540.0,306.6 539.5,307.4 539.0,308.1 538.5,308.5 538.0,308.8 537.5,309.0 537.0,309.2 536.5,309.3 536.0,309.3 535.5,309.4 535.0,309.4 534.5,309.4 534.0,309.4 533.5,309.3 533.0,309.3 532.5,309.2 532.0,309.2 531.5,309.1 531.0,309.1 530.5,309.0 530.0,308.9 529.5,308.8 529.0,308.6 528.5,308.5 528.0,308.4 527.5,308.2 527.0,308.0 526.5,307.9 526.0,307.7 525.5,307.5 525.0,307.3 524.5,307.1 524.0,307.0 523.5,306.8 523.0,306.7 522.5,306.5 522.0,306.4 521.5,306.3 521.0,306.3 520.5,306.2 520.0,306.2 519.5,306.2 519.0,306.3 518.5,306.3 518.0,306.4 517.5,306.5 517.0,306.7 516.5,306.8 516.0,307.0 515.5,307.1 515.0,307.3 514.5,307.5 514.0,307.7 513.5,307.9 513.0,308.0 512.5,308.2 512.0,308.4 511.5,308.5 511.0,308.6 510.5,308.8 510.0,308.9 509.5,309.0 509.0,309.1 508.5,309.1 508.0,309.2 507.5,309.3 507.0,309.3 506.5,309.3 506.0,309.4 505.5,309.4 505.0,309.4 504.5,309.4 504.0,309.5 503.5,309.5 503.0,309.5 502.5,309.5 502.0,309.5 501.5,309.5 501.0,309.5 500.5,309.5 500.0,309.5 499.5,309.5 499.0,309.5 498.5,309.5 498.0,309.5 497.5,309.5 497.0,309.5 496.5,309.5 496.0,309.5 495.5,309.5 495.0,309.5 494.5,309.5 494.0,309.5 493.5,309.5 493.0,309.5 492.5,309.5 492.0,309.5 491.5,309.5 491.0,309.5 490.5,309.5 490.0,309.5 489.5,309.5 489.0,309.5 488.5,309.5 488.0,309.5 487.5,309.5 487.0,309.4 486.5,309.4 486.0,309.4 485.5,309.4 485.0,309.4 484.5,309.3 484.0,309.3 483.5,309.2 483.0,309.1 482.5,309.0 482.0,308.9 481.5,308.7 481.0,308.6 480.5,308.4 480.0,308.3 479.5,308.1 479.0,308.0 478.5,307.9 478.0,307.9 477.5,307.8 477.0,307.8 476.5,307.9 476.0,307.9 475.5,308.0 475.0,308.1 474.5,308.2 474.0,308.3 473.5,308.4 473.0,308.4 472.5,308.5 472.0,308.5 471.5,308.5 471.0,308.4 470.5,308.4 470.0,308.3 469.5,308.2 469.0,308.0" fill="#fcd39a" fill-opacity="0.75"/>
<polygon points="469.0,304.7 469.5,304.9 470.0,305.1 470.5,305.2 471.0,305.3 471.5,305.4 472.0,305.4 472.5,305.3 473.0,305.2 473.5,305.1 474.0,304.9 474.5,304.7 475.0,304.5 475.5,304.2 476.0,304.0 476.5,303.9 477.0,303.8 477.5,303.7 478.0,303.8 478.5,303.9 479.0,304.1 479.5,304.4 480.0,304.7 480.5,305.0 481.0,305.4 481.5,305.7 482.0,306.0 482.5,306.3 483.0,306.5 483.5,306.7 484.0,306.8 484.5,306.9 485.0,307.0 485.5,307.1 486.0,307.1 486.5,307.2 487.0,307.2 487.5,307.2 488.0,307.2 488.5,307.2 489.0,307.3 489.5,307.3 490.0,307.3 490.5,307.3 491.0,307.3 491.5,307.3 492.0,307.3 492.5,307.3 493.0,307.3 493.5,307.3 494.0,307.3 494.5,307.3 495.0,307.3 495.5,307.3 496.0,307.3 496.5,307.3 497.0,307.3 497.5,307.3 498.0,307.3 498.5,307.3 499.0,307.3 499.5,307.3 500.0,307.3 500.5,307.3 501.0,307.3 501.5,307.2 502.0,307.2 502.5,307.2 503.0,307.2 503.5,307.2 504.0,307.1 504.5,307.1 505.0,307.0 505.5,307.0 506.0,306.9 506.5,306.8 507.0,306.7 507.5,306.6 508.0,306.4 508.5,306.3 509.0,306.1 509.5,305.9 510.0,305.7 510.5,305.4 511.0,305.2 511.5,304.9 512.0,304.6 512.5,304.3 513.0,304.0 513.5,303.6 514.0,303.2 514.5,302.8 515.0,302.3 515.5,301.7 516.0,301.0 516.5,300.3 517.0,299.4 517.5,298.5 518.0,297.5 518.5,296.6 519.0,295.9 519.5,295.3 520.0,295.1 520.5,295.2 521.0,295.6 521.5,296.3 522.0,297.1 522.5,298.1 523.0,299.0 523.5,299.9 524.0,300.8 524.5,301.5 525.0,302.1 525.5,302.6 526.0,303.0 526.5,303.4 527.0,303.8 527.5,304.2 528.0,304.5 528.5,304.8 529.0,305.0 529.5,305.3 530.0,305.5 530.5,305.7 531.0,305.8 531.5,306.0 532.0,306.0 532.5,306.1 533.0,306.1 533.5,306.1 534.0,306.0 534.5,306.0 535.0,305.9 535.5,305.8 536.0,305.7 536.5,305.6 537.0,305.4 537.5,305.2 538.0,304.9 538.5,304.5 539.0,303.8 539.5,302.9 540.0,301.5 540.5,299.7 541.0,297.2 541.5,294.0 542.0,290.1 542.5,285.3 543.0,279.6 543.5,273.2 544.0,266.1 544.5,258.5 545.0,250.6 545.5,242.9 546.0,235.6 546.5,229.2 547.0,224.0 547.5,220.2 548.0,218.2 548.5,218.0 549.0,219.7 549.5,223.1 550.0,228.1 550.5,234.3 551.0,241.4 551.5,249.1 552.0,257.0 552.5,264.7 553.0,271.9 553.5,278.6 554.0,284.4 554.5,289.5 555.0,293.7 555.5,297.2 556.0,299.9 556.5,302.0 557.0,303.6 557.5,304.7 558.0,305.6 558.5,306.2 559.0,306.6 559.5,306.8 560.0,307.0 560.5,307.1 561.0,307.1 561.5,307.1 562.0,307.1 562.5,307.0 563.0,306.8 563.5,306.6 564.0,306.4 564.5,306.0 565.0,305.7 565.5,305.3 566.0,304.9 566.5,304.5 567.0,304.2 567.5,304.0 568.0,304.0 568.5,304.0 569.0,304.2 569.5,304.5 570.0,304.9 570.5,305.3 571.0,305.7 571.5,306.1 572.0,306.4 572.5,306.6 573.0,306.8 573.5,307.0 574.0,307.1 574.5,307.2 575.0,307.2 575.5,307.3 576.0,307.3 576.5,307.3 577.0,307.3 577.5,307.3 578.0,307.3 578.5,307.3 579.0,307.3 579.5,307.3 580.0,307.3 580.5,307.3 581.0,307.3 581.5,307.3 582.0,307.3 582.5,307.3 583.0,307.3 583.5,307.3 584.0,307.3 584.5,307.3 585.0,307.3 585.5,307.3 586.0,307.3 586.5,307.3 587.0,307.3 587.5,307.3 588.0,307.3 588.5,307.3 589.0,307.3 589.5,307.3 590.0,307.3 590.5,307.3 591.0,307.3 591.5,307.3 592.0,307.3 592.5,307.3 593.0,307.3 593.5,307.3 594.0,307.3 594.5,307.3 595.0,307.3 595.5,307.2 596.0,307.1 596.5,307.0 597.0,306.9 597.5,306.7 598.0,306.6 598.5,306.4 599.0,306.2 599.5,305.9 600.0,305.6 600.5,305.4 601.0,305.1 601.5,304.7 602.0,304.4 602.5,304.0 603.0,303.6 603.5,303.2 604.0,302.7 604.5,302.2 605.0,301.7 605.0,305.0 604.5,305.4 604.0,305.8 603.5,306.2 603.0,306.5 602.5,306.8 602.0,307.1 601.5,307.4 601.0,307.7 600.5,307.9 600.0,308.2 599.5,308.4 599.0,308.6 598.5,308.8 598.0,308.9 597.5,309.0 597.0,309.2 596.5,309.3 596.0,309.4 595.5,309.4 595.0,309.5 594.5,309.5 594.0,309.5 593.5,309.5 593.0,309.5 592.5,309.5 592.0,309.5 591.5,309.5 591.0,309.5 590.5,309.5 590.0,309.5 589.5,309.5 589.0,309.5 588.5,309.5 588.0,309.5 587.5,309.5 587.0,309.5 586.5,309.5 586.0,309.5 585.5,309.5 585.0,309.5 584.5,309.5 584.0,309.5 583.5,309.5 583.0,309.5 582.5,309.5 582.0,309.5 581.5,309.5 581.0,309.5 580.5,309.5 580.0,309.5 579.5,309.5 579.0,309.5 578.5,309.5 578.0,309.5 577.5,309.5 577.0,309.5 576.5,309.5 576.0,309.5 575.5,309.5 575.0,309.4 574.5,309.4 574.0,309.4 573.5,309.3 573.0,309.1 572.5,309.0 572.0,308.8 571.5,308.5 571.0,308.2 570.5,307.9 570.0,307.6 569.5,307.3 569.0,307.0 568.5,306.9 568.0,306.8 567.5,306.9 567.0,307.0 566.5,307.3 566.0,307.6 565.5,307.9 565.0,308.2 564.5,308.5 564.0,308.8 563.5,309.0 563.0,309.1 562.5,309.2 562.0,309.3 561.5,309.4 561.0,309.4 560.5,309.3 560.0,309.3 559.5,309.1 559.0,308.9 558.5,308.6 558.0,308.1 557.5,307.5 557.0,306.5 556.5,305.2 556.0,303.6 555.5,301.4 555.0,298.6 554.5,295.2 554.0,291.2 553.5,286.5 553.0,281.1 552.5,275.3 552.0,269.1 551.5,262.8 551.0,256.7 550.5,251.0 550.0,246.0 549.5,242.0 549.0,239.2 548.5,237.9 548.0,238.0 547.5,239.7 547.0,242.7 546.5,246.9 546.0,252.0 545.5,257.9 545.0,264.1 544.5,270.3 544.0,276.4 543.5,282.1 543.0,287.3 542.5,291.8 542.0,295.7 541.5,298.9 541.0,301.4 540.5,303.4 540.0,304.9 539.5,305.9 539.0,306.7 538.5,307.2 538.0,307.6 537.5,307.8 537.0,308.0 536.5,308.1 536.0,308.2 535.5,308.3 535.0,308.4 534.5,308.4 534.0,308.5 533.5,308.5 533.0,308.5 532.5,308.5 532.0,308.5 531.5,308.4 531.0,308.3 530.5,308.2 530.0,308.1 529.5,307.9 529.0,307.7 528.5,307.5 528.0,307.2 527.5,307.0 527.0,306.7 526.5,306.4 526.0,306.1 525.5,305.7 525.0,305.3 524.5,304.8 524.0,304.3 523.5,303.6 523.0,302.9 522.5,302.1 522.0,301.4 521.5,300.7 521.0,300.1 520.5,299.8 520.0,299.7 519.5,299.9 519.0,300.3 518.5,300.9 518.0,301.7 517.5,302.4 517.0,303.2 516.5,303.9 516.0,304.5 515.5,305.0 515.0,305.5 514.5,305.9 514.0,306.2 513.5,306.5 513.0,306.8 512.5,307.1 512.0,307.3 511.5,307.6 511.0,307.8 510.5,308.0 510.0,308.2 509.5,308.4 509.0,308.5 508.5,308.7 508.0,308.8 507.5,308.9 507.0,309.0 506.5,309.1 506.0,309.2 505.5,309.2 505.0,309.3 504.5,309.3 504.0,309.4 503.5,309.4 503.0,309.4 502.5,309.4 502.0,309.4 501.5,309.5 501.0,309.5 500.5,309.5 500.0,309.5 499.5,309.5 499.0,309.5 498.5,309.5 498.0,309.5 497.5,309.5 497.0,309.5 496.5,309.5 496.0,309.5 495.5,309.5 495.0,309.5 494.5,309.5 494.0,309.5 493.5,309.5 493.0,309.5 492.5,309.5 492.0,309.5 491.5,309.5 491.0,309.5 490.5,309.5 490.0,309.5 489.5,309.5 489.0,309.5 488.5,309.5 488.0,309.4 487.5,309.4 487.0,309.4 486.5,309.4 486.0,309.4 485.5,309.3 485.0,309.3 484.5,309.2 484.0,309.1 483.5,309.0 483.0,308.9 482.5,308.7 482.0,308.5 481.5,308.2 481.0,308.0 480.5,307.7 480.0,307.4 479.5,307.2 479.0,307.0 478.5,306.8 478.0,306.7 477.5,306.6 477.0,306.7 476.5,306.7 476.0,306.9 475.5,307.0 475.0,307.2 474.5,307.4 474.0,307.6 473.5,307.7 473.0,307.8 472.5,307.9 472.0,308.0 471.5,308.0 471.0,307.9 470.5,307.8 470.0,307.7 469.5,307.6 469.0,307.4" fill="#f4867a" fill-opacity="0.75"/>
<polyline points="469.0,306.8 469.5,307.0 470.0,307.1 470.5,307.2 471.0,307.2 471.5,307.3 472.0,307.3 472.5,307.3 473.0,307.3 473.5,307.2 474.0,307.1 474.5,307.0 475.0,306.9 475.5,306.8 476.0,306.7 476.5,306.7 477.0,306.6 477.5,306.6 478.0,306.7 478.5,306.7 479.0,306.8 479.5,307.0 480.0,307.1 480.5,307.3 481.0,307.4 481.5,307.6 482.0,307.7 482.5,307.9 483.0,308.0 483.5,308.1 484.0,308.2 484.5,308.2 485.0,308.3 485.5,308.3 486.0,308.3 486.5,308.3 487.0,308.3 487.5,308.4 488.0,308.4 488.5,308.4 489.0,308.4 489.5,308.4 490.0,308.4 490.5,308.4 491.0,308.4 491.5,308.4 492.0,308.4 492.5,308.4 493.0,308.4 493.5,308.4 494.0,308.4 494.5,308.4 495.0,308.4 495.5,308.4 496.0,308.4 496.5,308.4 497.0,308.4 497.5,308.4 498.0,308.4 498.5,308.4 499.0,308.4 499.5,308.4 500.0,308.4 500.5,308.4 501.0,308.4 501.5,308.4 502.0,308.4 502.5,308.4 503.0,308.4 503.5,308.4 504.0,308.4 504.5,308.4 505.0,308.4 505.5,308.4 506.0,308.4 506.5,308.3 507.0,308.3 507.5,308.3 508.0,308.3 508.5,308.3 509.0,308.2 509.5,308.2 510.0,308.1 510.5,308.1 511.0,308.0 511.5,307.9 512.0,307.8 512.5,307.8 513.0,307.6 513.5,307.5 514.0,307.4 514.5,307.3 515.0,307.2 515.5,307.1 516.0,306.9 516.5,306.8 517.0,306.7 517.5,306.6 518.0,306.6 518.5,306.5 519.0,306.4 519.5,306.4 520.0,306.4 520.5,306.4 521.0,306.4 521.5,306.5 522.0,306.6 522.5,306.6 523.0,306.7 523.5,306.8 524.0,306.9 524.5,307.1 525.0,307.2 525.5,307.3 526.0,307.4 526.5,307.5 527.0,307.6 527.5,307.8 528.0,307.8 528.5,307.9 529.0,308.0 529.5,308.1 530.0,308.1 530.5,308.2 531.0,308.2 531.5,308.3 532.0,308.3 532.5,308.3 533.0,308.3 533.5,308.3 534.0,308.4 534.5,308.4 535.0,308.4 535.5,308.4 536.0,308.4 536.5,308.4 537.0,308.4 537.5,308.4 538.0,308.3 538.5,308.3 539.0,308.3 539.5,308.2 540.0,308.1 540.5,308.0 541.0,307.8 541.5,307.5 542.0,307.2 542.5,306.9 543.0,306.4 543.5,305.8 544.0,305.2 544.5,304.4 545.0,303.6 545.5,302.7 546.0,301.9 546.5,301.0 547.0,300.2 547.5,299.5 548.0,298.9 548.5,298.5 549.0,298.2 549.5,298.2 550.0,298.4 550.5,298.8 551.0,299.3 551.5,300.0 552.0,300.8 552.5,301.7 553.0,302.6 553.5,303.4 554.0,304.2 554.5,304.9 555.0,305.6 555.5,306.1 556.0,306.5 556.5,306.8 557.0,306.9 557.5,307.0 558.0,307.0 558.5,306.9 559.0,306.7 559.5,306.6 560.0,306.5 560.5,306.4 561.0,306.4 561.5,306.4 562.0,306.5 562.5,306.7 563.0,306.9 563.5,307.2 564.0,307.4 564.5,307.6 565.0,307.8 565.5,308.0 566.0,308.1 566.5,308.2 567.0,308.3 567.5,308.3 568.0,308.4 568.5,308.4 569.0,308.4 569.5,308.4 570.0,308.4 570.5,308.4 571.0,308.4 571.5,308.4 572.0,308.4 572.5,308.4 573.0,308.4 573.5,308.4 574.0,308.4 574.5,308.4 575.0,308.4 575.5,308.4 576.0,308.4 576.5,308.4 577.0,308.4 577.5,308.4 578.0,308.4 578.5,308.4 579.0,308.4 579.5,308.4 580.0,308.4 580.5,308.4 581.0,308.4 581.5,308.4 582.0,308.4 582.5,308.4 583.0,308.4 583.5,308.4 584.0,308.4 584.5,308.4 585.0,308.4 585.5,308.4 586.0,308.4 586.5,308.4 587.0,308.4 587.5,308.4 588.0,308.4 588.5,308.4 589.0,308.4 589.5,308.4 590.0,308.4 590.5,308.4 591.0,308.4 591.5,308.4 592.0,308.4 592.5,308.4 593.0,308.4 593.5,308.4 594.0,308.4 594.5,308.4 595.0,308.4 595.5,308.3 596.0,308.3 596.5,308.2 597.0,308.1 597.5,307.9 598.0,307.8 598.5,307.6 599.0,307.5 599.5,307.3 600.0,307.1 600.5,306.8 601.0,306.6 601.5,306.3 602.0,306.0 602.5,305.7 603.0,305.4 603.5,305.0 604.0,304.7 604.5,304.3 605.0,303.9" fill="none" stroke="#1a1a1a" stroke-width="1.2" stroke-linejoin="round" stroke-linecap="round" stroke-opacity="1"/>
<polyline points="469.0,306.5 469.5,306.7 470.0,306.8 470.5,306.8 471.0,306.9 471.5,306.8 472.0,306.8 472.5,306.6 473.0,306.5 473.5,306.2 474.0,306.0 474.5,305.6 475.0,305.3 475.5,305.0 476.0,304.7 476.5,304.5 477.0,304.3 477.5,304.3 478.0,304.3 478.5,304.5 479.0,304.7 479.5,305.0 480.0,305.4 480.5,305.8 481.0,306.2 481.5,306.5 482.0,306.9 482.5,307.2 483.0,307.5 483.5,307.7 484.0,307.9 484.5,308.0 485.0,308.1 485.5,308.2 486.0,308.3 486.5,308.3 487.0,308.3 487.5,308.3 488.0,308.3 488.5,308.4 489.0,308.4 489.5,308.4 490.0,308.4 490.5,308.4 491.0,308.4 491.5,308.4 492.0,308.4 492.5,308.4 493.0,308.4 493.5,308.4 494.0,308.4 494.5,308.4 495.0,308.4 495.5,308.4 496.0,308.4 496.5,308.4 497.0,308.4 497.5,308.4 498.0,308.4 498.5,308.4 499.0,308.4 499.5,308.4 500.0,308.4 500.5,308.4 501.0,308.4 501.5,308.4 502.0,308.4 502.5,308.4 503.0,308.4 503.5,308.4 504.0,308.4 504.5,308.4 505.0,308.4 505.5,308.4 506.0,308.3 506.5,308.3 507.0,308.3 507.5,308.3 508.0,308.3 508.5,308.2 509.0,308.2 509.5,308.1 510.0,308.1 510.5,308.0 511.0,307.9 511.5,307.8 512.0,307.7 512.5,307.6 513.0,307.5 513.5,307.3 514.0,307.2 514.5,307.0 515.0,306.9 515.5,306.7 516.0,306.6 516.5,306.4 517.0,306.3 517.5,306.2 518.0,306.1 518.5,306.0 519.0,305.9 519.5,305.9 520.0,305.9 520.5,305.9 521.0,305.9 521.5,306.0 522.0,306.1 522.5,306.2 523.0,306.3 523.5,306.4 524.0,306.6 524.5,306.7 525.0,306.9 525.5,307.0 526.0,307.2 526.5,307.3 527.0,307.5 527.5,307.6 528.0,307.7 528.5,307.8 529.0,307.9 529.5,308.0 530.0,308.1 530.5,308.1 531.0,308.2 531.5,308.2 532.0,308.3 532.5,308.3 533.0,308.3 533.5,308.3 534.0,308.3 534.5,308.4 535.0,308.4 535.5,308.4 536.0,308.4 536.5,308.4 537.0,308.4 537.5,308.3 538.0,308.3 538.5,308.2 539.0,308.1 539.5,308.0 540.0,307.8 540.5,307.5 541.0,307.1 541.5,306.6 542.0,306.0 542.5,305.1 543.0,304.1 543.5,302.9 544.0,301.6 544.5,300.1 545.0,298.5 545.5,296.8 546.0,295.2 546.5,293.7 547.0,292.4 547.5,291.4 548.0,290.7 548.5,290.4 549.0,290.5 549.5,291.1 550.0,291.9 550.5,293.1 551.0,294.6 551.5,296.2 552.0,297.8 552.5,299.4 553.0,301.0 553.5,302.4 554.0,303.6 554.5,304.7 555.0,305.5 555.5,306.0 556.0,306.4 556.5,306.5 557.0,306.3 557.5,306.0 558.0,305.4 558.5,304.7 559.0,304.0 559.5,303.3 560.0,302.7 560.5,302.4 561.0,302.4 561.5,302.7 562.0,303.2 562.5,303.9 563.0,304.8 563.5,305.6 564.0,306.3 564.5,306.9 565.0,307.4 565.5,307.8 566.0,308.0 566.5,308.2 567.0,308.3 567.5,308.3 568.0,308.4 568.5,308.4 569.0,308.4 569.5,308.4 570.0,308.4 570.5,308.4 571.0,308.4 571.5,308.4 572.0,308.4 572.5,308.4 573.0,308.4 573.5,308.4 574.0,308.4 574.5,308.4 575.0,308.4 575.5,308.4 576.0,308.4 576.5,308.4 577.0,308.4 577.5,308.4 578.0,308.4 578.5,308.4 579.0,308.4 579.5,308.4 580.0,308.3 580.5,308.3 581.0,308.2 581.5,308.2 582.0,308.0 582.5,307.9 583.0,307.7 583.5,307.5 584.0,307.3 584.5,307.0 585.0,306.8 585.5,306.5 586.0,306.2 586.5,306.0 587.0,305.8 587.5,305.7 588.0,305.6 588.5,305.6 589.0,305.7 589.5,305.9 590.0,306.1 590.5,306.4 591.0,306.6 591.5,306.9 592.0,307.2 592.5,307.4 593.0,307.7 593.5,307.8 594.0,308.0 594.5,308.1 595.0,308.2 595.5,308.2 596.0,308.2 596.5,308.2 597.0,308.2 597.5,308.1 598.0,308.1 598.5,308.0 599.0,307.9 599.5,307.8 600.0,307.7 600.5,307.5 601.0,307.4 601.5,307.2 602.0,307.1 602.5,306.9 603.0,306.7 603.5,306.5 604.0,306.3 604.5,306.1 605.0,305.9" fill="none" stroke="#2e3a96" stroke-width="1.2" stroke-linejoin="round" stroke-linecap="round" stroke-opacity="1"/>
<polyline points="469.0,306.8 469.5,307.0 470.0,307.1 470.5,307.2 471.0,307.2 471.5,307.3 472.0,307.3 472.5,307.3 473.0,307.3 473.5,307.2 474.0,307.1 474.5,307.0 475.0,306.9 475.5,306.8 476.0,306.7 476.5,306.7 477.0,306.6 477.5,306.6 478.0,306.7 478.5,306.7 479.0,306.8 479.5,307.0 480.0,307.1 480.5,307.3 481.0,307.4 481.5,307.6 482.0,307.7 482.5,307.9 483.0,308.0 483.5,308.1 484.0,308.2 484.5,308.2 485.0,308.3 485.5,308.3 486.0,308.3 486.5,308.3 487.0,308.3 487.5,308.4 488.0,308.4 488.5,308.4 489.0,308.4 489.5,308.4 490.0,308.4 490.5,308.4 491.0,308.4 491.5,308.4 492.0,308.4 492.5,308.4 493.0,308.4 493.5,308.4 494.0,308.4 494.5,308.4 495.0,308.4 495.5,308.4 496.0,308.4 496.5,308.4 497.0,308.4 497.5,308.4 498.0,308.4 498.5,308.4 499.0,308.4 499.5,308.4 500.0,308.4 500.5,308.4 501.0,308.4 501.5,308.4 502.0,308.4 502.5,308.4 503.0,308.4 503.5,308.4 504.0,308.3 504.5,308.3 505.0,308.3 505.5,308.3 506.0,308.3 506.5,308.2 507.0,308.2 507.5,308.1 508.0,308.1 508.5,308.0 509.0,307.9 509.5,307.8 510.0,307.7 510.5,307.6 511.0,307.5 511.5,307.3 512.0,307.2 512.5,307.0 513.0,306.8 513.5,306.7 514.0,306.5 514.5,306.3 515.0,306.1 515.5,305.9 516.0,305.7 516.5,305.5 517.0,305.4 517.5,305.2 518.0,305.1 518.5,305.0 519.0,305.0 519.5,304.9 520.0,304.9 520.5,304.9 521.0,305.0 521.5,305.0 522.0,305.1 522.5,305.2 523.0,305.4 523.5,305.5 524.0,305.7 524.5,305.9 525.0,306.1 525.5,306.3 526.0,306.5 526.5,306.7 527.0,306.8 527.5,307.0 528.0,307.2 528.5,307.3 529.0,307.5 529.5,307.6 530.0,307.7 530.5,307.8 531.0,307.9 531.5,308.0 532.0,308.1 532.5,308.1 533.0,308.2 533.5,308.2 534.0,308.2 534.5,308.3 535.0,308.3 535.5,308.3 536.0,308.2 536.5,308.2 537.0,308.1 537.5,307.9 538.0,307.7 538.5,307.3 539.0,306.9 539.5,306.2 540.0,305.3 540.5,304.2 541.0,302.7 541.5,300.8 542.0,298.6 542.5,295.9 543.0,292.8 543.5,289.4 544.0,285.6 544.5,281.7 545.0,277.6 545.5,273.7 546.0,270.0 546.5,266.7 547.0,264.1 547.5,262.2 548.0,261.2 548.5,261.1 549.0,261.9 549.5,263.6 550.0,266.1 550.5,269.3 551.0,272.9 551.5,276.8 552.0,280.9 552.5,284.9 553.0,288.7 553.5,292.2 554.0,295.3 554.5,298.1 555.0,300.4 555.5,302.3 556.0,303.9 556.5,305.1 557.0,306.0 557.5,306.7 558.0,307.3 558.5,307.6 559.0,307.9 559.5,308.0 560.0,308.1 560.5,308.2 561.0,308.2 561.5,308.2 562.0,308.1 562.5,308.0 563.0,307.9 563.5,307.7 564.0,307.6 564.5,307.4 565.0,307.2 565.5,307.0 566.0,306.8 566.5,306.6 567.0,306.5 567.5,306.4 568.0,306.4 568.5,306.4 569.0,306.5 569.5,306.6 570.0,306.8 570.5,307.0 571.0,307.2 571.5,307.4 572.0,307.6 572.5,307.8 573.0,307.9 573.5,308.0 574.0,308.1 574.5,308.2 575.0,308.3 575.5,308.3 576.0,308.3 576.5,308.4 577.0,308.4 577.5,308.4 578.0,308.4 578.5,308.4 579.0,308.4 579.5,308.4 580.0,308.4 580.5,308.4 581.0,308.4 581.5,308.4 582.0,308.4 582.5,308.4 583.0,308.4 583.5,308.4 584.0,308.4 584.5,308.4 585.0,308.4 585.5,308.4 586.0,308.4 586.5,308.4 587.0,308.4 587.5,308.4 588.0,308.4 588.5,308.4 589.0,308.4 589.5,308.4 590.0,308.4 590.5,308.4 591.0,308.4 591.5,308.4 592.0,308.4 592.5,308.4 593.0,308.4 593.5,308.4 594.0,308.4 594.5,308.4 595.0,308.3 595.5,308.2 596.0,308.1 596.5,308.0 597.0,307.8 597.5,307.5 598.0,307.3 598.5,307.0 599.0,306.6 599.5,306.3 600.0,305.9 600.5,305.4 601.0,305.0 601.5,304.4 602.0,303.9 602.5,303.3 603.0,302.7 603.5,302.1 604.0,301.4 604.5,300.7 605.0,299.9" fill="none" stroke="#f9a23f" stroke-width="1.2" stroke-linejoin="round" stroke-linecap="round" stroke-opacity="1"/>
<polyline points="469.0,306.1 469.5,306.2 470.0,306.4 470.5,306.5 471.0,306.6 471.5,306.7 472.0,306.7 472.5,306.6 473.0,306.5 473.5,306.4 474.0,306.2 474.5,306.0 475.0,305.8 475.5,305.6 476.0,305.4 476.5,305.3 477.0,305.2 477.5,305.2 478.0,305.2 478.5,305.4 479.0,305.5 479.5,305.8 480.0,306.1 480.5,306.4 481.0,306.7 481.5,307.0 482.0,307.2 482.5,307.5 483.0,307.7 483.5,307.8 484.0,308.0 484.5,308.1 485.0,308.2 485.5,308.2 486.0,308.3 486.5,308.3 487.0,308.3 487.5,308.3 488.0,308.3 488.5,308.3 489.0,308.4 489.5,308.4 490.0,308.4 490.5,308.4 491.0,308.4 491.5,308.4 492.0,308.4 492.5,308.4 493.0,308.4 493.5,308.4 494.0,308.4 494.5,308.4 495.0,308.4 495.5,308.4 496.0,308.4 496.5,308.4 497.0,308.4 497.5,308.4 498.0,308.4 498.5,308.4 499.0,308.4 499.5,308.4 500.0,308.4 500.5,308.4 501.0,308.4 501.5,308.3 502.0,308.3 502.5,308.3 503.0,308.3 503.5,308.3 504.0,308.2 504.5,308.2 505.0,308.1 505.5,308.1 506.0,308.0 506.5,307.9 507.0,307.8 507.5,307.7 508.0,307.6 508.5,307.5 509.0,307.3 509.5,307.1 510.0,306.9 510.5,306.7 511.0,306.5 511.5,306.2 512.0,306.0 512.5,305.7 513.0,305.4 513.5,305.1 514.0,304.7 514.5,304.3 515.0,303.9 515.5,303.4 516.0,302.8 516.5,302.1 517.0,301.3 517.5,300.5 518.0,299.6 518.5,298.8 519.0,298.1 519.5,297.6 520.0,297.4 520.5,297.5 521.0,297.9 521.5,298.5 522.0,299.2 522.5,300.1 523.0,301.0 523.5,301.8 524.0,302.5 524.5,303.1 525.0,303.7 525.5,304.2 526.0,304.6 526.5,304.9 527.0,305.3 527.5,305.6 528.0,305.9 528.5,306.1 529.0,306.4 529.5,306.6 530.0,306.8 530.5,306.9 531.0,307.1 531.5,307.2 532.0,307.3 532.5,307.3 533.0,307.3 533.5,307.3 534.0,307.2 534.5,307.2 535.0,307.1 535.5,307.0 536.0,306.9 536.5,306.8 537.0,306.7 537.5,306.5 538.0,306.3 538.5,305.9 539.0,305.3 539.5,304.4 540.0,303.2 540.5,301.5 541.0,299.3 541.5,296.4 542.0,292.9 542.5,288.6 543.0,283.5 543.5,277.7 544.0,271.3 544.5,264.4 545.0,257.4 545.5,250.4 546.0,243.8 546.5,238.0 547.0,233.3 547.5,229.9 548.0,228.1 548.5,227.9 549.0,229.4 549.5,232.5 550.0,237.0 550.5,242.6 551.0,249.1 551.5,256.0 552.0,263.1 552.5,270.0 553.0,276.5 553.5,282.5 554.0,287.8 554.5,292.4 555.0,296.2 555.5,299.3 556.0,301.7 556.5,303.6 557.0,305.0 557.5,306.1 558.0,306.9 558.5,307.4 559.0,307.7 559.5,308.0 560.0,308.1 560.5,308.2 561.0,308.2 561.5,308.2 562.0,308.2 562.5,308.1 563.0,308.0 563.5,307.8 564.0,307.6 564.5,307.3 565.0,306.9 565.5,306.6 566.0,306.2 566.5,305.9 567.0,305.6 567.5,305.5 568.0,305.4 568.5,305.5 569.0,305.6 569.5,305.9 570.0,306.2 570.5,306.6 571.0,306.9 571.5,307.3 572.0,307.6 572.5,307.8 573.0,308.0 573.5,308.1 574.0,308.2 574.5,308.3 575.0,308.3 575.5,308.4 576.0,308.4 576.5,308.4 577.0,308.4 577.5,308.4 578.0,308.4 578.5,308.4 579.0,308.4 579.5,308.4 580.0,308.4 580.5,308.4 581.0,308.4 581.5,308.4 582.0,308.4 582.5,308.4 583.0,308.4 583.5,308.4 584.0,308.4 584.5,308.4 585.0,308.4 585.5,308.4 586.0,308.4 586.5,308.4 587.0,308.4 587.5,308.4 588.0,308.4 588.5,308.4 589.0,308.4 589.5,308.4 590.0,308.4 590.5,308.4 591.0,308.4 591.5,308.4 592.0,308.4 592.5,308.4 593.0,308.4 593.5,308.4 594.0,308.4 594.5,308.4 595.0,308.4 595.5,308.3 596.0,308.2 596.5,308.1 597.0,308.0 597.5,307.9 598.0,307.7 598.5,307.6 599.0,307.4 599.5,307.1 600.0,306.9 600.5,306.7 601.0,306.4 601.5,306.1 602.0,305.8 602.5,305.4 603.0,305.1 603.5,304.7 604.0,304.3 604.5,303.8 605.0,303.4" fill="none" stroke="#d8262c" stroke-width="1.2" stroke-linejoin="round" stroke-linecap="round" stroke-opacity="1"/>
<text x="417.9" y="190.5" font-size="18" text-anchor="start" font-weight="bold" fill="#000" transform="translate(417.9 190.5) scale(1 1.05) translate(-417.9 -190.5)">e</text>
<text x="537.5" y="204.5" font-size="13" text-anchor="middle" font-weight="normal" fill="#303030" stroke="#303030" stroke-width="0.08" transform="translate(537.5 204.5) scale(1 1.05) translate(-537.5 -204.5)">Magnitude</text>
<line x1="567.7" y1="214.8" x2="591.7" y2="214.8" stroke="#1a1a1a" stroke-width="3.8"/>
<text x="602.5" y="218.8" font-size="10.5" text-anchor="middle" font-weight="normal" fill="#303030" stroke="#303030" stroke-width="0.08" transform="translate(602.5 218.8) scale(1 1.05) translate(-602.5 -218.8)">1</text>
<line x1="567.7" y1="228.9" x2="591.7" y2="228.9" stroke="#2e3a96" stroke-width="3.8"/>
<text x="602.5" y="232.9" font-size="10.5" text-anchor="middle" font-weight="normal" fill="#303030" stroke="#303030" stroke-width="0.08" transform="translate(602.5 232.9) scale(1 1.05) translate(-602.5 -232.9)">2</text>
<line x1="567.7" y1="243.0" x2="591.7" y2="243.0" stroke="#f9a23f" stroke-width="3.8"/>
<text x="602.5" y="247.0" font-size="10.5" text-anchor="middle" font-weight="normal" fill="#303030" stroke="#303030" stroke-width="0.08" transform="translate(602.5 247.0) scale(1 1.05) translate(-602.5 -247.0)">4</text>
<line x1="567.7" y1="257.1" x2="591.7" y2="257.1" stroke="#ee2a2a" stroke-width="3.8"/>
<text x="602.5" y="261.1" font-size="10.5" text-anchor="middle" font-weight="normal" fill="#303030" stroke="#303030" stroke-width="0.08" transform="translate(602.5 261.1) scale(1 1.05) translate(-602.5 -261.1)">8</text>
</svg>
</body></html>
